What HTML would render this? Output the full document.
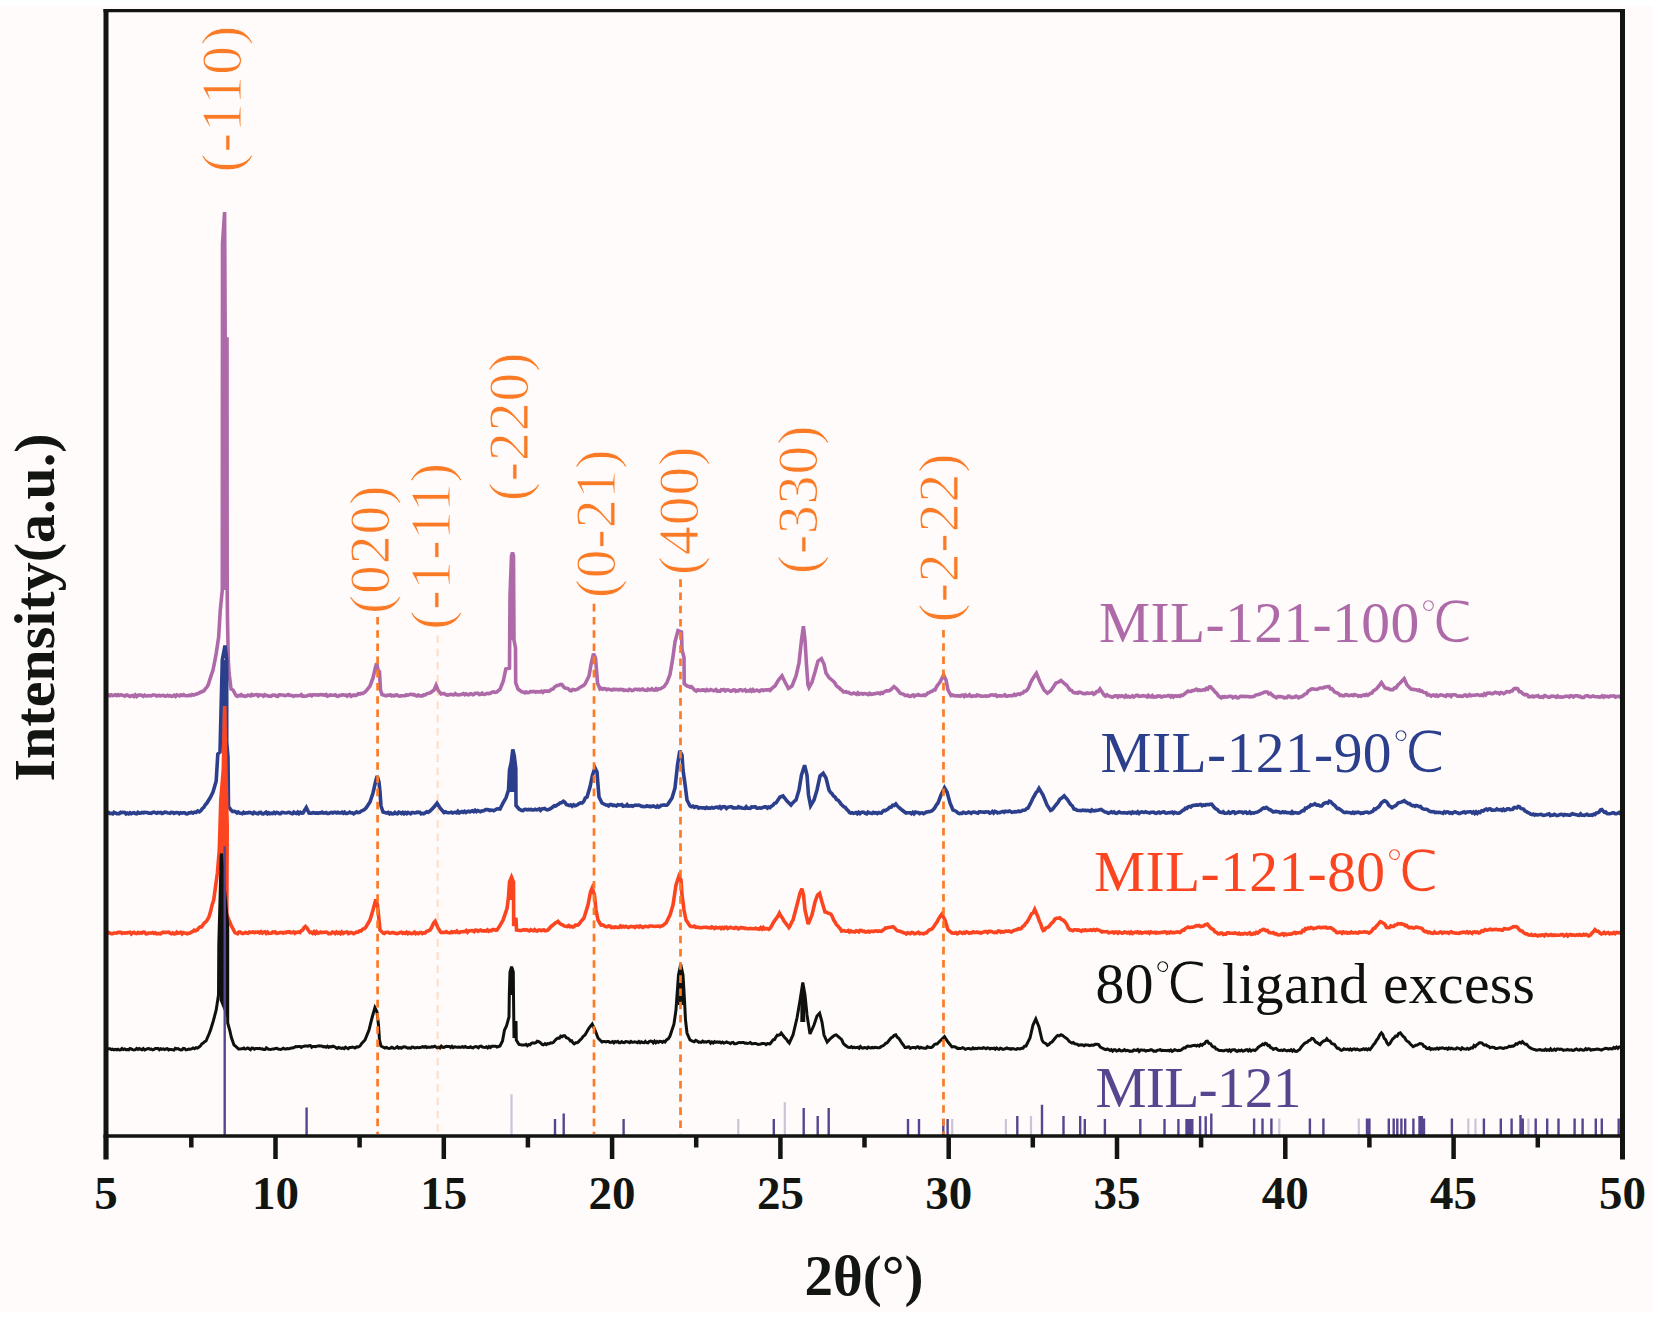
<!DOCTYPE html>
<html><head><meta charset="utf-8"><title>XRD</title>
<style>html,body{margin:0;padding:0;background:#fff;}svg{display:block;}</style>
</head><body>
<svg width="1662" height="1318" viewBox="0 0 1662 1318"><rect x="0" y="0" width="1662" height="1318" fill="#ffffff"/>
<rect x="0" y="6" width="1653" height="1306" fill="#fefbfa"/>
<path d="M106.0,695.5 107.3,695.2 108.7,694.9 110.0,695.8 111.3,694.8 112.7,695.6 114.0,695.3 115.3,694.8 116.7,695.6 118.0,694.7 119.3,695.5 120.7,694.8 122.0,694.9 123.3,695.5 124.7,696.2 126.0,695.0 127.3,695.1 128.7,695.9 130.0,696.5 131.3,695.8 132.7,695.5 134.0,696.5 135.3,694.9 136.7,696.4 138.0,695.3 139.3,695.1 140.7,695.0 142.0,695.4 143.3,696.3 144.7,695.2 146.0,695.9 147.3,696.0 148.7,695.6 150.0,695.8 151.3,695.9 152.7,695.0 154.0,695.0 155.4,695.2 156.7,696.1 158.1,695.6 159.4,695.4 160.8,695.9 162.1,695.6 163.5,695.3 164.8,696.2 166.2,696.0 167.5,695.2 168.8,695.8 170.2,695.7 171.5,696.3 172.9,696.0 174.2,695.2 175.6,696.4 176.9,694.9 178.3,695.4 179.6,696.0 181.0,694.9 182.3,695.5 183.7,694.7 185.0,695.5 186.4,695.7 187.9,695.7 189.3,695.2 190.7,695.6 192.1,694.5 193.6,695.0 195.0,694.5 196.7,694.0 198.3,693.3 200.0,692.5 204.0,690.7 205.4,688.6 206.9,687.2 208.3,684.6 211.0,676.0 213.0,670.0 215.0,660.0 216.3,652.8 218.6,637.6 220.3,610.0 222.3,590.0 222.5,244.0 224.6,212.0 225.2,339.0 227.0,339.0 227.2,590.0 227.5,620.0 228.3,660.0 229.0,672.5 231.0,689.0 233.0,690.0 236.0,695.5 237.3,696.3 238.6,695.5 239.9,695.8 241.2,694.7 242.5,695.9 243.8,695.8 245.1,696.4 246.4,696.1 247.8,695.1 249.1,695.3 250.4,695.8 251.7,694.6 253.0,695.4 254.3,694.9 255.6,694.8 256.9,694.7 258.2,696.0 259.5,694.8 260.8,695.0 262.1,695.3 263.4,696.2 264.7,694.7 266.0,695.4 267.3,695.6 268.7,696.2 270.0,696.1 271.3,696.2 272.6,695.1 273.9,695.3 275.2,695.2 276.5,696.2 277.8,696.3 279.1,694.9 280.4,694.9 281.7,695.0 283.0,695.0 284.3,695.5 285.6,695.7 286.9,695.1 288.2,694.6 289.6,695.4 290.9,695.3 292.2,695.6 293.5,696.3 294.8,695.8 296.1,695.5 297.4,695.7 298.7,695.8 300.0,695.5 301.3,694.7 302.6,696.2 303.9,696.0 305.2,696.2 306.5,696.0 307.9,695.3 309.2,695.3 310.5,694.8 311.8,695.7 313.1,694.7 314.4,694.7 315.7,695.0 317.0,694.9 318.3,695.2 319.6,694.7 321.0,694.6 322.3,694.9 323.6,694.8 324.9,695.3 326.2,694.6 327.5,696.2 328.8,695.7 330.1,694.9 331.4,695.1 332.7,695.2 334.0,695.3 335.4,694.8 336.7,696.1 338.0,696.4 339.3,695.4 340.6,695.5 341.9,694.8 343.2,694.8 344.5,695.2 345.8,695.1 347.1,696.1 348.5,694.9 349.8,694.6 351.1,696.3 352.4,695.6 353.7,694.9 355.0,695.5 356.7,695.1 358.3,693.6 360.0,694.0 361.5,693.3 363.0,693.4 364.5,692.4 366.0,691.0 370.0,686.0 373.0,678.0 375.5,667.0 376.7,663.3 378.5,672.0 379.5,672.0 380.5,690.0 382.0,694.5 385.0,695.5 386.3,695.8 387.7,695.0 389.0,695.2 390.3,694.8 391.7,695.9 393.0,695.5 394.3,695.9 395.7,695.1 397.0,694.9 398.3,695.9 399.7,696.2 401.0,695.9 402.3,695.8 403.7,695.8 405.0,695.7 406.3,694.7 407.7,695.2 409.0,694.9 410.3,694.3 411.7,694.3 413.0,694.8 414.3,694.7 415.7,695.5 417.0,695.9 418.3,695.0 419.7,695.9 421.0,695.9 422.3,695.9 423.7,694.8 425.0,695.0 426.7,693.8 428.3,693.2 430.0,693.0 434.0,690.0 436.1,685.3 438.0,690.0 441.0,694.0 442.5,693.5 444.0,693.6 445.5,694.5 447.0,695.1 448.5,695.0 450.0,694.5 451.3,694.4 452.7,694.7 454.0,694.9 455.3,693.6 456.7,694.6 458.0,695.0 459.3,694.8 460.7,694.7 462.0,694.2 463.3,693.6 464.7,694.7 466.0,693.8 467.3,694.6 468.7,694.9 470.0,693.8 471.3,693.8 472.7,694.7 474.0,694.3 475.3,693.3 476.7,693.2 478.0,693.2 479.3,694.5 480.7,694.3 482.0,693.1 483.3,694.3 484.7,694.5 486.0,693.9 487.3,693.3 488.7,693.6 490.0,693.5 491.7,692.4 493.3,691.8 495.0,692.3 496.7,692.1 498.3,690.6 500.0,689.3 503.3,681.0 505.8,669.0 509.5,668.0 510.0,596.0 511.5,556.0 512.5,552.5 513.5,556.0 514.0,640.0 515.5,648.0 515.7,683.0 518.0,689.0 522.0,692.0 523.4,692.0 524.8,692.8 526.2,691.9 527.5,692.7 528.9,692.6 530.3,691.5 531.7,691.6 533.1,691.6 534.5,691.5 535.8,692.2 537.2,691.6 538.6,691.9 540.0,692.0 541.4,691.1 542.9,692.3 544.3,691.1 545.7,691.1 547.1,691.1 548.6,691.4 550.0,690.5 551.5,689.2 553.0,689.0 554.5,687.1 556.0,686.0 557.5,685.5 559.1,685.0 560.6,684.4 562.1,684.7 563.5,686.7 565.0,688.0 566.7,688.3 568.3,688.8 570.0,690.5 571.3,690.8 572.7,689.4 574.0,689.7 575.3,689.9 576.7,689.4 578.0,689.0 579.4,687.7 580.8,687.0 582.2,686.1 583.6,685.5 585.0,684.0 589.0,676.0 591.5,662.0 593.5,653.7 595.5,658.0 596.5,670.0 597.5,683.0 600.0,689.0 601.3,688.3 602.7,689.2 604.0,688.6 605.3,688.7 606.7,689.7 608.0,689.2 609.3,689.3 610.7,689.7 612.0,690.0 613.3,689.2 614.7,689.6 616.0,689.4 617.3,689.5 618.7,689.8 620.0,689.4 621.3,689.6 622.7,689.5 624.0,690.4 625.3,690.0 626.7,690.3 628.0,690.5 629.3,689.3 630.7,689.9 632.0,690.6 633.3,690.4 634.7,689.2 636.0,689.2 637.3,689.8 638.7,689.2 640.0,690.0 641.3,689.5 642.7,689.1 644.0,690.1 645.3,690.2 646.7,690.4 648.0,689.0 649.3,689.9 650.7,689.8 652.0,688.8 653.3,690.0 654.7,690.1 656.0,688.7 657.3,689.9 658.7,688.9 660.0,689.0 664.0,686.7 667.0,682.5 670.0,674.6 672.6,659.4 675.0,641.8 678.0,630.6 681.5,632.0 682.0,650.0 684.0,657.6 684.2,683.7 687.0,686.0 688.5,686.2 689.9,687.3 691.4,686.7 695.0,690.4 696.3,691.0 697.6,689.8 698.9,690.3 700.3,690.4 701.6,690.1 702.9,689.9 704.2,690.1 705.5,690.8 706.8,689.6 708.2,690.5 709.5,690.3 710.8,689.6 712.1,690.1 713.4,690.6 714.7,690.4 716.1,689.6 717.4,691.3 718.7,691.0 720.0,691.3 721.3,689.7 722.6,690.0 723.9,689.6 725.3,690.9 726.6,690.0 727.9,689.8 729.2,690.3 730.5,691.2 731.8,691.0 733.2,690.0 734.5,689.8 735.8,691.2 737.1,690.6 738.4,690.8 739.7,689.7 741.1,689.7 742.4,690.8 743.7,690.3 745.0,689.7 746.3,691.3 747.6,690.7 748.9,691.0 750.3,689.7 751.6,691.1 752.9,689.7 754.2,691.1 755.5,690.4 756.8,690.2 758.2,690.6 759.5,691.3 760.8,690.1 762.1,689.8 763.4,690.5 764.7,690.0 766.1,689.8 767.4,689.9 768.7,689.7 770.0,690.5 771.7,688.5 773.3,687.2 775.0,686.0 778.5,680.0 782.0,675.8 785.0,682.0 788.4,688.4 792.0,686.0 796.0,676.0 799.0,663.0 801.5,640.0 803.4,626.2 805.0,640.0 806.5,665.0 808.0,685.0 809.0,687.5 812.0,682.0 815.0,672.0 818.0,661.0 821.4,658.7 824.0,664.0 826.0,673.0 829.0,677.6 833.0,681.0 834.7,682.6 836.3,685.5 838.0,687.0 839.4,687.9 840.7,689.5 842.0,690.2 843.4,692.0 844.7,692.0 846.0,691.7 847.4,692.5 848.7,692.3 850.0,693.5 851.3,693.9 852.6,693.6 853.9,693.0 855.2,693.5 856.5,694.3 857.8,692.9 859.1,694.2 860.4,693.5 861.7,693.6 863.0,694.2 864.3,693.5 865.7,693.7 867.0,694.0 868.3,694.6 869.6,693.4 870.9,694.3 872.2,694.1 873.5,694.0 874.8,693.6 876.1,693.5 877.4,693.0 878.7,693.1 880.0,693.8 881.3,692.6 882.7,693.3 884.0,692.0 885.3,691.3 886.7,690.7 888.0,691.0 889.5,690.5 891.0,689.5 892.5,688.0 894.0,686.6 895.5,687.8 897.0,689.3 898.5,691.0 900.0,693.0 901.7,693.8 903.3,694.1 905.0,695.5 906.3,695.4 907.7,695.1 909.0,696.3 910.3,696.4 911.7,695.6 913.0,695.0 914.3,696.3 915.7,695.2 917.0,695.2 918.3,694.6 919.7,695.3 921.0,695.5 922.3,695.5 923.7,695.0 925.0,695.5 926.4,694.7 927.9,693.0 929.3,692.7 930.7,691.6 932.1,691.4 933.6,690.0 935.0,690.0 936.7,686.5 938.3,684.3 940.0,682.0 943.6,674.9 946.0,680.0 948.0,690.0 951.0,695.5 952.3,695.0 953.6,695.7 954.9,695.6 956.2,696.0 957.6,695.8 958.9,695.9 960.2,696.2 961.5,695.3 962.8,695.2 964.1,696.4 965.4,694.9 966.7,696.0 968.0,695.8 969.4,694.7 970.7,696.2 972.0,696.3 973.3,695.8 974.6,696.0 975.9,696.1 977.2,694.9 978.5,695.6 979.8,695.6 981.2,696.2 982.5,696.2 983.8,696.2 985.1,695.8 986.4,696.3 987.7,696.0 989.0,696.0 990.3,695.1 991.6,694.8 993.0,695.0 994.3,695.4 995.6,694.9 996.9,696.3 998.2,695.8 999.5,695.9 1000.8,695.9 1002.1,696.0 1003.4,695.7 1004.8,694.8 1006.1,696.2 1007.4,696.1 1008.7,695.7 1010.0,695.7 1011.4,695.6 1012.9,695.6 1014.3,694.4 1015.7,695.4 1017.1,694.4 1018.6,693.9 1020.0,694.5 1021.4,693.2 1022.8,693.1 1024.2,691.3 1025.6,691.3 1027.0,690.0 1028.7,687.5 1030.3,683.3 1032.0,680.0 1033.5,677.5 1034.9,675.4 1036.4,673.2 1040.0,682.0 1044.0,690.0 1047.4,693.2 1048.9,692.1 1050.5,690.9 1052.0,689.0 1056.0,683.0 1057.7,682.4 1059.3,681.6 1061.0,680.5 1065.0,684.0 1066.7,685.2 1068.3,687.4 1070.0,690.0 1071.7,690.6 1073.3,692.4 1075.0,693.0 1076.3,692.7 1077.7,693.2 1079.0,692.2 1080.3,692.3 1081.7,692.8 1083.0,693.5 1084.3,693.6 1085.7,693.6 1087.0,692.9 1088.3,693.4 1089.7,693.3 1091.0,693.3 1092.3,692.7 1093.7,694.2 1095.0,693.5 1096.7,691.5 1098.3,691.4 1100.0,689.0 1104.0,695.0 1105.5,696.1 1107.0,694.8 1108.5,695.9 1110.0,696.3 1111.3,696.9 1112.6,697.1 1114.0,696.2 1115.3,695.9 1116.6,695.8 1117.9,697.1 1119.2,695.8 1120.6,696.4 1121.9,695.7 1123.2,696.3 1124.5,697.1 1125.8,695.6 1127.2,696.9 1128.5,696.3 1129.8,697.0 1131.1,696.7 1132.5,695.8 1133.8,697.0 1135.1,696.3 1136.4,695.4 1137.7,695.4 1139.1,696.3 1140.4,696.2 1141.7,695.9 1143.0,695.7 1144.3,696.0 1145.7,696.0 1147.0,696.9 1148.3,695.4 1149.6,696.8 1150.9,696.9 1152.3,695.6 1153.6,697.1 1154.9,696.7 1156.2,697.0 1157.5,695.9 1158.9,696.1 1160.2,696.1 1161.5,697.2 1162.8,696.5 1164.2,696.0 1165.5,696.2 1166.8,695.9 1168.1,695.5 1169.4,695.6 1170.8,696.9 1172.1,695.9 1173.4,697.1 1174.7,695.8 1176.0,695.9 1177.4,696.3 1178.7,695.7 1180.0,696.3 1181.3,695.2 1182.7,695.4 1184.0,694.3 1185.3,693.3 1186.7,692.1 1188.0,691.0 1189.4,691.5 1190.8,691.4 1192.2,690.5 1193.6,690.6 1195.0,690.0 1196.4,689.2 1197.9,690.4 1199.3,689.9 1200.7,690.5 1202.1,690.3 1203.6,689.6 1205.0,690.0 1206.4,688.4 1207.8,689.2 1209.2,687.0 1210.6,686.9 1212.1,688.5 1213.5,690.0 1215.0,692.0 1216.7,693.3 1218.3,695.8 1220.0,697.0 1221.3,697.9 1222.6,696.6 1223.9,697.3 1225.2,696.6 1226.5,697.1 1227.8,696.8 1229.1,696.4 1230.4,696.4 1231.7,696.5 1233.0,697.7 1234.3,697.0 1235.7,696.5 1237.0,697.7 1238.3,697.9 1239.6,696.9 1240.9,696.4 1242.2,696.4 1243.5,696.3 1244.8,696.7 1246.1,696.3 1247.4,696.5 1248.7,696.6 1250.0,697.0 1251.4,696.7 1252.9,696.8 1254.3,696.2 1255.7,695.1 1257.1,694.7 1258.6,694.5 1260.0,694.0 1261.5,693.4 1263.0,692.9 1264.4,692.0 1265.9,692.0 1267.4,692.0 1268.9,693.8 1270.4,693.3 1272.0,695.0 1273.5,696.2 1275.0,697.0 1276.3,697.7 1277.6,696.5 1278.9,696.6 1280.3,696.5 1281.6,696.8 1282.9,696.9 1284.2,697.8 1285.5,697.6 1286.8,697.7 1288.2,696.1 1289.5,696.2 1290.8,697.4 1292.1,697.7 1293.4,697.0 1294.7,697.2 1296.1,696.1 1297.4,696.8 1298.7,697.8 1300.0,697.0 1301.7,696.6 1303.3,695.6 1305.0,694.0 1306.7,693.5 1308.3,690.9 1310.0,690.0 1311.4,689.0 1312.9,688.8 1314.3,689.2 1315.7,689.2 1317.1,689.4 1318.6,688.7 1320.0,688.0 1321.6,688.0 1323.1,687.9 1324.7,687.1 1326.2,687.0 1327.8,686.6 1329.1,686.6 1330.4,688.8 1331.7,688.7 1333.0,690.0 1334.4,691.9 1335.8,692.5 1337.2,692.9 1338.6,693.7 1340.0,695.5 1341.3,695.1 1342.6,695.7 1343.9,695.9 1345.3,694.8 1346.6,694.7 1347.9,695.5 1349.2,695.6 1350.5,695.3 1351.8,695.0 1353.2,695.7 1354.5,694.6 1355.8,695.1 1357.1,695.4 1358.4,696.3 1359.7,695.8 1361.1,696.2 1362.4,695.5 1363.7,695.0 1365.0,695.5 1366.4,694.5 1367.8,695.3 1369.2,694.4 1370.6,693.2 1372.0,693.0 1373.5,690.6 1375.0,690.0 1376.5,688.8 1378.0,687.0 1381.4,682.6 1385.0,688.0 1386.7,688.4 1388.3,688.6 1390.0,689.6 1391.5,689.5 1393.0,689.6 1394.5,687.9 1396.0,688.0 1397.7,685.2 1399.3,683.7 1401.0,682.0 1404.2,678.6 1407.0,685.0 1411.0,689.0 1415.0,689.6 1416.4,689.7 1417.8,690.5 1419.2,689.9 1420.6,691.3 1422.0,691.0 1423.3,692.2 1424.7,692.5 1426.0,692.7 1427.3,694.8 1428.7,694.4 1430.0,695.5 1431.3,696.1 1432.6,695.0 1433.9,695.0 1435.3,696.0 1436.6,695.1 1437.9,696.3 1439.2,695.5 1440.5,694.9 1441.8,695.0 1443.2,695.4 1444.5,695.8 1445.8,696.3 1447.1,694.9 1448.4,695.3 1449.7,695.0 1451.1,696.4 1452.4,694.9 1453.7,694.7 1455.0,694.7 1456.3,695.3 1457.6,696.2 1458.9,696.2 1460.3,695.9 1461.6,696.4 1462.9,696.3 1464.2,695.2 1465.5,694.9 1466.8,696.3 1468.2,695.9 1469.5,694.7 1470.8,695.8 1472.1,695.3 1473.4,695.3 1474.7,695.2 1476.1,694.9 1477.4,694.6 1478.7,695.1 1480.0,695.5 1481.4,694.9 1482.9,695.6 1484.3,693.8 1485.7,694.9 1487.1,693.2 1488.6,693.1 1490.0,693.0 1491.4,693.6 1492.7,693.6 1494.1,692.9 1495.5,692.2 1496.8,693.0 1498.2,692.8 1499.5,693.8 1500.9,692.4 1502.3,692.8 1503.6,693.7 1505.0,693.0 1506.5,691.7 1508.0,691.8 1509.5,692.1 1511.0,691.0 1512.3,690.9 1513.7,689.0 1515.1,688.4 1516.4,688.6 1517.8,688.9 1519.2,691.6 1520.6,691.5 1522.0,693.0 1523.3,694.0 1524.7,694.9 1526.0,694.5 1527.3,694.9 1528.7,696.7 1530.0,696.5 1531.3,696.7 1532.6,696.1 1533.9,696.9 1535.3,696.2 1536.6,696.1 1537.9,695.6 1539.2,697.0 1540.5,697.2 1541.8,696.7 1543.1,697.3 1544.5,695.6 1545.8,696.0 1547.1,696.5 1548.4,697.3 1549.7,697.3 1551.0,696.3 1552.3,696.1 1553.7,696.4 1555.0,696.5 1556.3,697.3 1557.6,695.9 1558.9,697.0 1560.2,696.9 1561.5,697.1 1562.9,697.0 1564.2,696.7 1565.5,696.2 1566.8,696.2 1568.1,696.3 1569.4,697.0 1570.7,695.7 1572.1,696.0 1573.4,697.0 1574.7,696.0 1576.0,695.7 1577.3,695.7 1578.6,696.6 1579.9,696.2 1581.3,697.4 1582.6,697.2 1583.9,697.4 1585.2,696.1 1586.5,695.8 1587.8,695.8 1589.1,696.5 1590.5,696.9 1591.8,696.4 1593.1,696.0 1594.4,696.4 1595.7,696.7 1597.0,696.8 1598.3,696.9 1599.7,697.1 1601.0,696.8 1602.3,695.8 1603.6,697.1 1604.9,696.1 1606.2,696.6 1607.5,696.3 1608.9,696.9 1610.2,696.0 1611.5,696.0 1612.8,696.0 1614.1,695.9 1615.4,697.2 1616.7,696.6 1618.1,696.2 1619.4,696.3 1620.7,697.4 1622.0,696.5" fill="none" stroke="#ae6aa8" stroke-width="3.6" stroke-linejoin="miter" stroke-miterlimit="3"/><polygon points="222.5,339.0 227.0,339.0 227.0,590.0 222.5,590.0" fill="#ae6aa8"/><polygon points="511.5,556.0 512.5,552.5 513.5,556.0 514.0,640.0 510.0,640.0 510.0,596.0" fill="#ae6aa8"/>
<path d="M106.0,813.0 107.3,813.0 108.7,812.5 110.0,813.6 111.3,813.3 112.7,813.9 114.0,812.3 115.3,813.0 116.7,813.6 118.0,813.6 119.3,813.7 120.7,812.2 122.0,812.6 123.3,812.3 124.7,812.4 126.0,813.9 127.3,813.1 128.7,813.8 130.0,812.8 131.3,813.7 132.7,812.9 134.0,812.6 135.3,813.5 136.7,813.8 138.0,812.3 139.3,813.2 140.7,813.2 142.0,812.5 143.3,812.8 144.7,812.4 146.0,812.5 147.3,812.6 148.7,813.2 150.0,813.0 151.3,813.3 152.7,812.5 154.0,812.1 155.3,812.7 156.7,813.3 158.0,812.4 159.3,812.7 160.7,812.5 162.0,813.5 163.3,813.1 164.7,812.2 166.0,812.3 167.3,812.8 168.7,813.1 170.0,813.3 171.3,812.3 172.7,812.4 174.0,813.4 175.3,812.8 176.7,812.6 178.0,812.7 179.3,813.8 180.7,812.7 182.0,813.1 183.3,812.7 184.7,812.8 186.0,813.7 187.3,813.9 188.7,812.8 190.0,813.0 191.5,812.3 193.0,813.2 194.5,812.1 196.0,812.5 197.7,810.9 199.3,811.8 201.0,810.4 202.4,808.5 203.8,807.4 205.3,804.9 206.7,803.3 210.0,798.0 213.0,792.0 216.2,781.0 217.8,754.0 220.0,752.0 222.3,660.0 225.0,645.5 226.7,660.0 226.7,742.0 228.0,757.0 228.5,806.5 231.0,810.0 232.5,811.4 234.0,811.4 235.5,811.6 237.0,813.0 238.3,812.1 239.6,813.1 241.0,813.3 242.3,813.7 243.6,812.3 244.9,813.2 246.2,812.8 247.6,813.0 248.9,812.4 250.2,812.6 251.5,813.0 252.8,813.8 254.2,812.3 255.5,813.0 256.8,813.5 258.1,813.8 259.4,812.5 260.8,812.3 262.1,813.8 263.4,813.9 264.7,813.0 266.0,812.2 267.4,813.8 268.7,812.8 270.0,813.7 271.3,813.2 272.6,813.6 274.0,812.4 275.3,813.5 276.6,812.5 277.9,812.8 279.2,813.6 280.6,813.6 281.9,812.4 283.2,812.5 284.5,812.8 285.8,813.0 287.2,812.8 288.5,812.3 289.8,812.5 291.1,813.4 292.4,813.7 293.8,812.2 295.1,813.1 296.4,813.5 297.7,812.2 299.0,813.6 300.4,812.3 301.7,813.2 303.0,813.0 306.3,807.5 309.0,813.0 310.3,813.1 311.6,813.2 312.9,812.7 314.3,812.9 315.6,813.1 316.9,812.9 318.2,813.3 319.5,812.9 320.8,812.9 322.1,812.1 323.5,813.2 324.8,813.0 326.1,812.5 327.4,813.5 328.7,813.5 330.0,812.9 331.3,812.4 332.7,813.0 334.0,812.3 335.3,812.3 336.6,812.9 337.9,812.3 339.2,812.9 340.5,813.0 341.9,812.2 343.2,813.2 344.5,812.2 345.8,813.4 347.1,813.5 348.4,813.0 349.7,812.2 351.1,813.0 352.4,812.8 353.7,813.8 355.0,813.0 356.6,811.8 358.1,812.6 359.7,812.4 361.3,811.0 362.9,810.4 364.4,809.6 366.0,808.0 370.0,802.0 373.0,793.0 375.5,782.0 377.2,776.0 379.0,782.0 380.0,792.0 381.0,806.0 383.0,812.0 387.0,813.0 388.3,812.4 389.6,813.9 390.9,813.0 392.2,813.8 393.6,813.7 394.9,812.4 396.2,813.5 397.5,813.8 398.8,812.2 400.1,812.7 401.4,813.5 402.7,812.4 404.0,813.7 405.3,812.6 406.7,813.6 408.0,812.4 409.3,813.0 410.6,813.8 411.9,812.5 413.2,812.6 414.5,813.0 415.8,812.7 417.1,812.2 418.4,812.4 419.8,812.4 421.1,813.8 422.4,813.3 423.7,813.7 425.0,813.0 426.7,811.7 428.3,812.2 430.0,811.0 434.0,807.0 437.0,803.1 440.0,808.0 444.0,812.5 445.5,811.8 447.0,812.6 448.5,812.7 450.0,812.5 451.3,812.2 452.6,813.0 454.0,812.4 455.3,812.3 456.6,812.8 457.9,811.3 459.3,812.9 460.6,812.1 461.9,811.6 463.2,812.3 464.6,811.3 465.9,812.5 467.2,811.7 468.5,811.2 469.9,811.9 471.2,811.2 472.5,810.7 473.8,811.6 475.1,810.3 476.5,811.6 477.8,810.5 479.1,811.1 480.4,811.7 481.8,810.9 483.1,811.0 484.4,810.3 485.7,809.6 487.1,809.6 488.4,809.7 489.7,810.5 491.0,810.1 492.4,810.2 493.7,810.8 495.0,810.0 496.7,809.0 498.3,808.8 500.0,809.0 502.7,803.7 506.1,797.6 508.5,790.0 509.5,770.0 511.3,762.0 512.8,749.5 514.3,756.0 515.8,768.5 516.0,805.5 519.0,809.0 521.6,810.4 523.0,810.6 524.3,809.4 525.7,809.3 527.0,809.9 528.4,809.4 529.7,809.7 531.1,809.4 532.4,810.0 533.8,810.0 535.1,809.2 536.5,809.9 537.8,809.6 539.2,808.9 540.5,810.3 541.9,808.9 543.2,808.7 544.6,808.5 545.9,809.4 547.3,809.8 548.6,809.6 550.0,809.0 551.4,808.0 552.8,807.0 554.2,805.7 555.6,806.1 557.0,805.0 558.6,804.2 560.2,802.9 561.8,802.5 563.4,801.3 564.9,802.4 566.5,804.6 568.0,805.0 569.4,805.6 570.8,804.9 572.2,806.2 573.6,804.8 575.0,805.8 576.4,805.3 577.8,804.5 579.2,803.6 580.6,802.8 582.0,803.0 583.7,801.5 585.3,798.1 587.0,797.0 590.0,787.0 592.5,775.0 595.0,767.9 597.0,772.0 598.0,785.0 599.0,797.0 602.0,803.0 606.0,805.0 607.3,805.1 608.6,805.9 610.0,804.5 611.3,804.6 612.6,805.4 613.9,805.2 615.2,805.5 616.5,805.9 617.9,804.7 619.2,805.0 620.5,805.0 621.8,804.6 623.1,806.2 624.4,806.0 625.8,805.9 627.1,804.7 628.4,806.2 629.7,806.1 631.0,805.6 632.3,806.2 633.7,805.7 635.0,805.3 636.3,805.1 637.6,805.4 638.9,805.1 640.2,805.7 641.6,806.4 642.9,806.4 644.2,806.7 645.5,806.5 646.8,805.7 648.1,806.3 649.5,806.1 650.8,806.8 652.1,806.3 653.4,805.9 654.7,806.6 656.0,807.2 657.4,805.9 658.7,807.1 660.0,806.5 661.3,805.2 662.7,805.2 664.0,804.8 665.3,805.3 666.7,805.2 668.0,804.0 672.0,798.0 675.0,788.0 677.5,765.0 679.8,750.8 682.0,755.0 683.0,770.0 685.0,784.0 687.0,800.0 690.0,806.0 691.4,806.7 692.9,806.1 694.3,807.4 695.7,806.6 697.1,806.7 698.6,808.1 700.0,807.6 701.3,807.8 702.6,807.9 704.0,807.9 705.3,808.5 706.6,807.5 707.9,808.2 709.2,808.0 710.6,808.2 711.9,807.5 713.2,808.0 714.5,807.7 715.8,807.3 717.2,807.1 718.5,807.8 719.8,806.8 721.1,808.3 722.5,807.0 723.8,806.7 725.1,806.9 726.4,808.4 727.7,807.3 729.1,807.0 730.4,806.8 731.7,806.8 733.0,807.9 734.3,807.8 735.7,808.0 737.0,808.0 738.3,806.8 739.6,807.8 740.9,807.4 742.3,808.2 743.6,808.2 744.9,808.3 746.2,806.8 747.5,808.3 748.9,808.3 750.2,808.4 751.5,806.9 752.8,807.1 754.2,806.9 755.5,806.8 756.8,808.2 758.1,808.2 759.4,807.8 760.8,808.2 762.1,807.8 763.4,807.2 764.7,806.9 766.0,806.9 767.4,808.1 768.7,807.1 770.0,807.6 771.5,806.1 773.0,805.2 774.5,803.3 776.0,803.0 780.0,797.0 783.0,795.9 787.0,801.0 791.0,805.0 792.7,802.9 794.3,801.3 796.0,800.0 799.0,790.0 801.5,775.0 804.6,765.2 807.0,775.0 808.5,795.0 810.6,805.8 814.0,800.0 817.0,790.0 820.0,776.0 823.2,773.3 826.0,778.0 829.0,790.0 830.5,792.4 832.0,793.7 833.5,795.9 835.0,796.9 836.5,799.5 838.0,800.0 839.5,801.8 841.0,804.1 842.5,805.5 844.0,807.0 845.3,807.4 846.6,809.2 848.0,810.5 849.3,812.3 850.6,813.0 851.9,812.7 853.3,813.4 854.6,813.1 855.9,812.5 857.3,813.7 858.6,812.3 860.0,813.6 861.3,812.4 862.6,812.1 864.0,812.5 865.3,813.5 866.6,813.9 868.0,812.1 869.3,813.0 870.6,813.0 872.0,813.5 873.3,812.4 874.7,813.0 876.0,812.7 877.3,813.6 878.7,812.6 880.0,813.0 881.3,813.1 882.7,811.3 884.0,810.5 885.3,810.7 886.7,809.7 888.0,809.0 889.6,807.3 891.1,807.2 892.7,805.2 894.2,805.5 895.8,804.0 897.3,805.9 898.9,807.5 900.5,808.7 902.0,810.0 906.0,813.0 907.4,812.7 908.7,812.8 910.1,812.8 911.4,813.7 912.8,812.3 914.1,813.7 915.5,812.1 916.9,812.5 918.2,812.6 919.6,813.7 920.9,813.0 922.3,812.8 923.6,813.7 925.0,813.0 926.3,812.0 927.7,811.9 929.0,811.6 930.3,811.5 931.7,811.0 933.0,810.0 934.7,807.9 936.3,805.1 938.0,803.0 941.0,795.0 944.5,787.8 947.0,792.0 950.0,803.0 953.0,810.0 954.7,810.7 956.3,811.4 958.0,813.0 959.3,813.6 960.6,813.2 962.0,813.3 963.3,812.3 964.6,812.7 965.9,813.3 967.2,812.9 968.6,812.1 969.9,812.7 971.2,813.4 972.5,812.2 973.8,812.1 975.1,812.3 976.5,812.9 977.8,813.2 979.1,811.9 980.4,811.9 981.7,812.0 983.1,812.1 984.4,812.4 985.7,811.8 987.0,812.0 988.3,811.8 989.7,813.1 991.0,812.7 992.3,811.5 993.6,813.0 994.9,811.4 996.3,811.9 997.6,813.0 998.9,812.6 1000.2,812.5 1001.5,811.9 1002.9,811.4 1004.2,812.2 1005.5,811.2 1006.8,811.4 1008.1,811.7 1009.4,811.0 1010.8,811.6 1012.1,812.3 1013.4,812.1 1014.7,811.7 1016.0,811.9 1017.4,811.6 1018.7,811.0 1020.0,811.6 1021.3,811.2 1022.7,810.2 1024.0,810.2 1025.3,809.9 1026.7,808.5 1028.0,808.0 1029.7,804.8 1031.3,801.8 1033.0,798.0 1034.5,795.5 1036.0,792.7 1037.5,791.2 1039.0,788.4 1043.0,795.0 1047.0,805.0 1050.5,810.5 1052.0,809.7 1053.5,808.0 1055.0,806.0 1056.7,804.0 1058.3,802.0 1060.0,799.0 1061.4,798.3 1062.8,797.1 1064.2,795.8 1065.8,797.8 1067.4,799.6 1069.0,802.0 1070.7,804.6 1072.3,805.9 1074.0,809.0 1075.5,809.2 1077.0,810.3 1078.5,810.5 1080.0,810.5 1081.3,810.7 1082.6,810.1 1083.9,810.4 1085.2,810.4 1086.5,810.7 1087.8,810.3 1089.2,810.8 1090.5,811.3 1091.8,809.9 1093.1,810.8 1094.4,811.0 1095.7,810.3 1097.0,810.5 1101.0,809.5 1105.0,812.0 1106.7,812.2 1108.3,813.3 1110.0,812.6 1111.3,811.8 1112.6,812.7 1114.0,812.0 1115.3,813.1 1116.6,813.4 1117.9,812.6 1119.2,811.9 1120.6,812.7 1121.9,812.7 1123.2,813.0 1124.5,812.6 1125.8,812.9 1127.2,813.2 1128.5,812.6 1129.8,812.4 1131.1,813.4 1132.5,812.1 1133.8,812.9 1135.1,812.4 1136.4,813.1 1137.7,811.9 1139.1,813.5 1140.4,812.3 1141.7,811.8 1143.0,812.2 1144.3,812.4 1145.7,811.7 1147.0,812.5 1148.3,812.5 1149.6,813.0 1150.9,812.3 1152.3,812.2 1153.6,812.1 1154.9,813.0 1156.2,813.4 1157.5,812.6 1158.9,812.1 1160.2,813.1 1161.5,812.4 1162.8,812.1 1164.2,811.9 1165.5,813.1 1166.8,813.2 1168.1,812.8 1169.4,812.5 1170.8,812.7 1172.1,812.1 1173.4,813.4 1174.7,812.3 1176.0,812.8 1177.4,813.2 1178.7,813.2 1180.0,812.6 1181.3,811.6 1182.7,810.4 1184.0,809.9 1185.3,808.2 1186.7,808.5 1188.0,807.0 1189.4,806.4 1190.8,807.0 1192.2,805.6 1193.6,805.4 1195.0,805.3 1196.4,804.9 1197.9,805.2 1199.3,804.7 1200.7,804.4 1202.1,805.7 1203.6,804.9 1205.0,805.3 1206.3,804.6 1207.6,804.5 1209.0,804.6 1210.3,804.3 1211.6,804.2 1213.1,806.0 1214.5,807.7 1216.0,809.0 1217.5,809.7 1219.0,811.6 1220.5,812.3 1222.0,812.6 1223.3,811.8 1224.6,813.2 1226.0,813.3 1227.3,813.1 1228.6,812.0 1229.9,813.2 1231.2,812.8 1232.6,811.7 1233.9,811.7 1235.2,813.4 1236.5,812.9 1237.8,812.2 1239.2,811.9 1240.5,812.0 1241.8,812.1 1243.1,813.1 1244.4,812.3 1245.8,812.0 1247.1,813.3 1248.4,813.1 1249.7,812.0 1251.0,813.3 1252.4,812.8 1253.7,813.1 1255.0,812.6 1256.4,812.2 1257.8,811.9 1259.2,811.0 1260.6,810.3 1262.0,809.0 1263.5,807.9 1264.9,808.3 1266.4,807.4 1267.8,808.4 1269.2,809.6 1270.6,810.0 1272.0,811.0 1273.3,812.0 1274.7,811.6 1276.0,811.4 1277.3,811.6 1278.7,811.7 1280.0,812.6 1281.3,812.6 1282.7,811.8 1284.0,812.5 1285.3,812.0 1286.7,812.6 1288.0,812.6 1289.3,812.7 1290.7,813.3 1292.0,811.7 1293.3,813.2 1294.7,812.5 1296.0,812.7 1297.3,812.9 1298.7,813.2 1300.0,812.6 1301.3,811.4 1302.7,810.6 1304.0,810.6 1305.3,808.1 1306.7,808.2 1308.0,807.0 1309.4,806.6 1310.8,804.8 1312.1,805.2 1313.5,804.7 1314.9,803.7 1316.6,805.2 1318.3,804.9 1320.0,806.0 1321.7,805.9 1323.3,804.0 1325.0,803.0 1326.5,802.6 1327.9,803.1 1329.3,801.2 1330.8,801.7 1332.1,803.4 1333.4,804.6 1334.7,805.4 1336.0,807.0 1337.5,808.6 1339.0,808.6 1340.5,809.8 1342.0,810.8 1343.5,812.2 1345.0,812.6 1346.3,812.1 1347.6,812.5 1348.9,812.5 1350.3,812.7 1351.6,813.2 1352.9,812.2 1354.2,813.2 1355.5,812.4 1356.8,812.6 1358.2,812.2 1359.5,812.6 1360.8,813.5 1362.1,812.9 1363.4,813.1 1364.7,812.3 1366.1,812.3 1367.4,812.2 1368.7,812.8 1370.0,812.6 1371.4,811.9 1372.8,811.3 1374.2,809.0 1375.6,809.3 1377.0,808.0 1378.5,807.2 1380.0,805.2 1381.4,802.8 1382.9,801.8 1384.4,800.7 1385.9,801.2 1387.4,802.9 1389.0,805.7 1390.5,806.5 1392.0,807.7 1393.5,806.8 1395.0,805.9 1396.5,804.9 1398.0,803.0 1399.5,802.6 1401.1,802.1 1402.7,801.5 1404.2,800.7 1405.6,801.9 1406.9,802.6 1408.3,803.6 1409.6,803.6 1411.0,805.0 1412.3,805.6 1413.7,805.5 1415.0,806.3 1416.3,805.4 1417.7,805.8 1419.0,806.7 1420.5,806.4 1422.0,808.3 1423.5,809.1 1425.0,809.2 1426.5,809.2 1428.0,810.0 1429.4,811.1 1430.8,811.6 1432.2,811.7 1433.6,811.6 1435.0,812.6 1436.3,812.2 1437.6,812.5 1439.0,812.3 1440.3,812.5 1441.6,812.9 1442.9,813.4 1444.3,811.8 1445.6,812.7 1446.9,811.8 1448.2,811.9 1449.6,813.2 1450.9,812.7 1452.2,813.4 1453.5,812.5 1454.9,811.7 1456.2,812.4 1457.5,812.8 1458.8,813.4 1460.1,813.5 1461.5,812.6 1462.8,812.4 1464.1,811.9 1465.4,812.9 1466.8,812.1 1468.1,812.0 1469.4,811.7 1470.7,811.7 1472.1,812.9 1473.4,811.9 1474.7,813.4 1476.0,811.9 1477.4,813.3 1478.7,811.9 1480.0,812.6 1481.7,810.7 1483.3,811.0 1485.0,809.6 1486.3,809.1 1487.6,810.0 1488.9,809.0 1490.3,808.8 1491.6,810.1 1492.9,810.0 1494.2,810.2 1495.5,810.0 1496.8,808.9 1498.2,809.8 1499.5,810.0 1500.8,809.5 1502.1,810.4 1503.4,809.2 1504.7,810.4 1506.1,810.0 1507.4,808.7 1508.7,808.7 1510.0,809.6 1511.3,809.5 1512.7,809.3 1514.0,807.6 1515.4,807.6 1516.7,807.9 1518.1,806.5 1519.4,806.7 1520.8,808.4 1522.2,808.8 1523.6,809.1 1525.0,811.0 1526.4,811.5 1527.8,812.6 1529.2,813.0 1530.6,814.2 1532.0,814.6 1533.3,814.0 1534.6,815.1 1535.9,814.4 1537.2,814.9 1538.6,814.8 1539.9,814.5 1541.2,814.4 1542.5,815.1 1543.8,815.4 1545.1,815.1 1546.4,814.7 1547.8,814.2 1549.1,813.8 1550.4,815.5 1551.7,815.0 1553.0,815.2 1554.3,814.3 1555.6,814.8 1556.9,815.5 1558.2,815.2 1559.6,814.8 1560.9,814.3 1562.2,814.5 1563.5,815.3 1564.8,814.4 1566.1,814.9 1567.4,814.8 1568.8,815.3 1570.1,815.2 1571.4,814.2 1572.7,813.7 1574.0,814.2 1575.3,814.5 1576.6,814.8 1577.9,815.2 1579.2,815.3 1580.6,813.8 1581.9,815.2 1583.2,815.2 1584.5,815.3 1585.8,814.7 1587.1,814.2 1588.4,815.2 1589.8,815.2 1591.1,814.9 1592.4,815.3 1593.7,814.3 1595.0,814.6 1596.4,812.9 1597.7,812.7 1599.1,812.1 1600.4,810.1 1601.8,809.6 1603.1,811.0 1604.4,812.3 1605.7,812.0 1607.0,813.5 1608.4,813.7 1609.7,813.8 1611.1,813.4 1612.5,812.9 1613.8,812.9 1615.2,813.8 1616.5,813.8 1617.9,813.2 1619.3,812.5 1620.6,813.8 1622.0,813.2" fill="none" stroke="#2c3f8c" stroke-width="3.6" stroke-linejoin="miter" stroke-miterlimit="3"/><polygon points="222.3,660.0 226.7,660.0 226.7,806.0 222.3,806.0" fill="#2c3f8c"/><polygon points="512.8,749.5 514.3,756.0 515.8,768.5 515.8,792.0 509.5,792.0 509.5,770.0 511.3,762.0" fill="#2c3f8c"/>
<path d="M106.0,933.0 107.3,933.5 108.7,932.5 110.0,933.1 111.3,933.7 112.7,933.7 114.0,933.0 115.3,933.0 116.7,933.2 118.0,932.4 119.3,932.4 120.7,932.4 122.0,933.4 123.3,932.8 124.7,933.1 126.0,932.8 127.3,933.0 128.7,932.4 130.0,932.2 131.3,933.9 132.7,932.8 134.0,932.3 135.3,933.2 136.7,933.5 138.0,932.4 139.3,933.2 140.7,932.7 142.0,933.0 143.3,932.1 144.7,932.2 146.0,933.9 147.3,933.7 148.7,933.0 150.0,933.0 151.3,933.1 152.7,932.6 154.0,933.5 155.3,932.9 156.7,933.8 158.0,933.5 159.3,933.6 160.7,933.8 162.0,932.6 163.3,932.2 164.7,932.5 166.0,932.4 167.3,932.3 168.7,932.2 170.0,933.1 171.3,933.7 172.7,932.9 174.0,933.8 175.3,933.7 176.7,932.2 178.0,933.2 179.3,932.8 180.7,932.3 182.0,933.8 183.3,932.6 184.7,933.1 186.0,933.3 187.3,933.8 188.7,933.3 190.0,933.0 191.4,932.1 192.9,931.4 194.3,930.1 195.8,930.8 197.2,930.1 198.7,928.0 200.2,926.9 201.6,927.0 203.1,924.6 204.5,922.7 206.0,921.7 207.4,919.7 208.9,917.0 210.5,911.9 212.1,904.9 213.7,900.0 217.4,873.0 219.3,850.0 220.8,800.0 223.3,770.0 224.7,706.0 225.8,770.0 227.2,826.0 227.0,870.0 226.8,914.0 228.2,918.2 229.6,921.7 231.0,925.0 235.0,932.8 236.3,933.1 237.6,933.7 238.9,932.0 240.2,932.1 241.5,933.2 242.8,933.6 244.1,933.1 245.4,932.4 246.7,932.9 248.0,933.2 249.3,932.0 250.6,932.4 251.9,932.3 253.2,932.0 254.5,932.7 255.8,932.1 257.1,932.2 258.4,932.0 259.7,933.0 261.0,931.8 262.3,933.1 263.6,932.1 264.9,931.8 266.2,933.4 267.5,932.1 268.8,933.4 270.1,933.3 271.4,933.3 272.7,932.0 274.0,932.5 275.3,931.9 276.6,933.4 277.9,933.2 279.2,932.8 280.5,932.5 281.8,932.3 283.1,933.2 284.4,932.5 285.7,932.8 287.0,931.9 288.3,932.1 289.6,931.8 290.9,932.9 292.2,932.6 293.5,931.9 294.8,933.2 296.1,932.1 297.4,932.4 298.7,931.9 300.0,932.5 301.4,930.6 302.7,930.1 304.0,927.7 305.4,926.5 306.9,927.9 308.5,930.5 310.0,932.5 311.3,932.2 312.6,933.3 314.0,931.8 315.3,933.4 316.6,931.8 317.9,933.3 319.3,932.9 320.6,932.1 321.9,932.6 323.2,932.3 324.6,932.2 325.9,932.1 327.2,932.4 328.5,933.6 329.9,933.6 331.2,933.5 332.5,932.0 333.8,932.4 335.1,933.5 336.5,932.0 337.8,933.2 339.1,932.5 340.4,933.7 341.8,932.0 343.1,933.4 344.4,932.6 345.7,932.2 347.1,932.0 348.4,933.5 349.7,933.0 351.0,932.4 352.4,932.9 353.7,933.7 355.0,933.0 356.5,932.0 358.0,932.1 359.5,930.8 361.0,931.0 362.7,929.1 364.3,928.8 366.0,927.0 370.0,920.0 373.0,910.0 375.8,899.4 377.5,905.0 378.5,915.0 380.0,930.0 383.0,933.0 384.3,933.4 385.6,932.5 386.9,932.2 388.2,932.3 389.6,933.2 390.9,933.0 392.2,932.6 393.5,932.5 394.8,933.2 396.1,933.4 397.4,933.6 398.8,933.1 400.1,932.5 401.4,932.2 402.7,933.4 404.0,932.8 405.3,933.4 406.6,932.2 407.9,933.6 409.2,932.7 410.6,933.6 411.9,933.7 413.2,933.0 414.5,932.1 415.8,933.7 417.1,933.0 418.4,933.7 419.8,932.6 421.1,932.4 422.4,933.6 423.7,932.8 425.0,933.0 426.7,931.4 428.3,930.8 430.0,930.0 431.7,927.3 433.5,923.3 435.2,921.3 438.0,928.0 441.0,932.5 442.3,932.5 443.6,932.3 445.0,932.4 446.3,931.6 447.6,932.6 448.9,932.7 450.3,932.8 451.6,931.7 452.9,932.4 454.2,931.7 455.6,932.4 456.9,931.1 458.2,932.5 459.5,932.6 460.9,931.7 462.2,931.7 463.5,931.6 464.8,931.6 466.2,930.6 467.5,932.3 468.8,930.9 470.1,930.7 471.5,930.5 472.8,930.8 474.1,931.7 475.4,930.2 476.8,930.3 478.1,931.3 479.4,930.4 480.7,930.0 482.1,931.0 483.4,930.9 484.7,930.8 486.0,931.0 487.4,929.9 488.7,931.2 490.0,930.5 491.4,930.8 492.8,929.5 494.2,929.5 495.6,930.1 497.0,930.0 499.5,926.3 503.0,920.2 507.0,908.7 508.5,897.0 509.5,882.0 511.5,877.0 513.5,882.0 513.7,926.0 516.0,917.8 516.5,930.0 520.0,930.5 521.3,930.5 522.7,930.1 524.0,929.7 525.3,930.2 526.7,929.7 528.0,930.5 529.3,931.0 530.7,929.7 532.0,930.4 533.3,930.7 534.7,929.6 536.0,930.8 537.3,931.0 538.7,930.0 540.0,930.0 541.3,930.7 542.7,930.1 544.0,929.9 545.3,930.8 546.7,930.5 548.0,930.0 549.7,928.0 551.3,926.2 553.0,925.0 554.7,923.5 556.3,922.4 558.0,921.3 559.7,923.4 561.3,924.3 563.0,925.0 564.4,926.1 565.8,926.2 567.2,926.6 568.6,925.6 570.0,926.7 571.3,926.4 572.7,927.0 574.0,926.6 575.3,925.1 576.7,925.1 578.0,925.0 579.5,923.5 581.0,921.3 582.5,919.8 584.0,918.0 588.0,905.0 590.5,892.0 592.2,887.9 594.5,895.0 596.0,910.0 598.0,920.0 601.0,925.0 602.7,924.8 604.3,926.0 606.0,926.7 607.3,926.7 608.6,925.8 610.0,926.1 611.3,927.5 612.6,927.2 613.9,927.5 615.2,926.9 616.5,927.3 617.9,927.4 619.2,927.4 620.5,925.9 621.8,927.0 623.1,926.3 624.4,927.0 625.8,926.3 627.1,926.8 628.4,927.5 629.7,926.9 631.0,926.3 632.3,926.7 633.7,926.6 635.0,927.5 636.3,926.3 637.6,926.3 638.9,927.0 640.2,926.0 641.6,926.9 642.9,927.5 644.2,926.7 645.5,926.3 646.8,926.6 648.1,926.8 649.5,926.1 650.8,926.0 652.1,926.0 653.4,926.3 654.7,926.5 656.0,926.3 657.4,926.2 658.7,926.0 660.0,926.7 661.5,925.9 663.0,925.5 664.5,924.1 666.0,923.0 670.0,915.0 673.0,905.0 676.0,885.0 678.9,876.2 681.0,880.0 682.0,895.0 684.0,910.0 686.0,920.0 690.0,926.0 691.4,926.4 692.9,926.7 694.3,926.1 695.7,927.3 697.1,927.1 698.6,927.5 700.0,927.6 701.3,927.8 702.6,927.6 704.0,927.3 705.3,927.2 706.6,927.2 707.9,927.7 709.2,927.5 710.6,927.9 711.9,926.9 713.2,927.5 714.5,928.4 715.8,927.3 717.2,927.9 718.5,927.8 719.8,927.5 721.1,928.7 722.5,927.5 723.8,928.4 725.1,927.3 726.4,927.2 727.7,928.6 729.1,927.9 730.4,927.2 731.7,927.8 733.0,927.9 734.3,928.5 735.7,927.4 737.0,927.6 738.3,928.9 739.6,928.5 740.9,927.5 742.3,927.9 743.6,927.9 744.9,928.5 746.2,928.4 747.5,928.8 748.9,928.8 750.2,928.3 751.5,928.7 752.8,928.7 754.2,928.8 755.5,928.3 756.8,928.8 758.1,928.7 759.4,929.1 760.8,927.7 762.1,929.1 763.4,927.5 764.7,928.9 766.0,928.6 767.4,928.5 768.7,929.3 770.0,928.5 771.7,925.8 773.3,922.7 775.0,920.0 776.5,918.2 777.9,916.1 779.4,913.2 780.9,916.0 782.5,918.2 784.0,921.0 785.6,923.1 787.3,925.3 788.9,927.6 790.3,925.5 791.6,922.2 793.0,920.0 797.0,905.0 800.0,893.0 801.9,888.8 803.5,895.0 805.0,910.0 808.2,924.0 812.0,915.0 815.0,902.0 817.5,895.0 819.6,893.3 822.0,902.0 825.0,912.0 826.5,912.3 827.9,913.1 829.3,913.4 830.8,914.1 832.2,916.4 833.6,919.9 835.0,922.0 836.3,924.5 837.6,925.7 839.0,927.4 840.3,928.8 841.6,931.2 842.9,930.8 844.2,930.6 845.6,931.3 846.9,931.3 848.2,930.5 849.5,932.0 850.9,930.9 852.2,931.8 853.5,931.8 854.8,932.0 856.2,930.7 857.5,931.1 858.8,931.9 860.1,930.3 861.5,930.4 862.8,931.3 864.1,931.2 865.4,932.0 866.8,931.7 868.1,931.3 869.4,932.1 870.7,931.2 872.1,931.2 873.4,931.5 874.7,931.0 876.0,930.9 877.4,931.4 878.7,930.9 880.0,931.2 881.4,931.4 882.8,930.2 884.2,929.3 885.6,927.9 887.0,928.0 888.5,927.4 890.0,927.2 891.5,927.1 893.0,926.7 894.5,927.9 896.0,929.5 897.5,930.8 899.0,931.0 900.5,931.5 902.0,931.9 903.5,932.7 905.0,933.0 906.3,933.9 907.7,932.7 909.0,933.1 910.3,933.6 911.7,932.4 913.0,932.7 914.3,933.9 915.7,933.6 917.0,933.0 918.3,932.3 919.7,933.7 921.0,933.3 922.3,933.6 923.7,933.9 925.0,933.0 926.4,932.9 927.8,931.3 929.2,930.0 930.6,929.4 932.0,929.0 933.7,926.7 935.3,924.3 937.0,922.0 938.6,918.8 940.2,916.2 941.8,914.1 945.0,920.0 948.0,930.0 952.0,933.0 953.3,933.2 954.6,933.1 956.0,932.6 957.3,933.8 958.6,933.1 959.9,932.0 961.2,932.6 962.5,933.3 963.9,932.4 965.2,933.0 966.5,931.8 967.8,932.3 969.1,933.2 970.5,932.7 971.8,932.8 973.1,931.9 974.4,932.5 975.7,932.5 977.0,932.0 978.4,932.6 979.7,932.4 981.0,933.2 982.3,932.4 983.6,932.1 985.0,931.5 986.3,931.6 987.6,932.6 988.9,931.4 990.2,931.4 991.5,931.5 992.9,932.1 994.2,932.6 995.5,932.2 996.8,932.5 998.1,931.1 999.5,931.0 1000.8,932.3 1002.1,931.5 1003.4,932.1 1004.7,931.5 1006.0,931.1 1007.4,931.2 1008.7,930.9 1010.0,931.6 1011.4,932.0 1012.9,931.0 1014.3,930.2 1015.7,930.0 1017.1,929.5 1018.6,928.6 1020.0,929.0 1021.4,928.3 1022.8,926.3 1024.2,925.6 1025.6,923.3 1027.0,922.0 1028.5,919.7 1030.1,916.5 1031.6,913.7 1033.2,912.8 1034.7,909.5 1038.0,917.0 1039.3,921.0 1040.6,923.4 1041.9,927.8 1043.2,930.5 1044.6,930.0 1045.9,927.9 1047.3,927.4 1048.6,926.9 1050.0,925.0 1051.7,923.0 1053.3,921.8 1055.0,919.0 1056.7,918.2 1058.3,918.1 1060.0,917.9 1061.7,919.7 1063.3,920.1 1065.0,922.0 1066.7,924.3 1068.3,928.0 1070.0,930.0 1071.4,930.0 1072.9,930.7 1074.3,929.8 1075.7,929.7 1077.1,930.1 1078.6,929.9 1080.0,930.5 1081.3,931.3 1082.7,930.1 1084.0,930.6 1085.3,929.8 1086.7,930.6 1088.0,930.3 1089.3,930.3 1090.7,929.7 1092.0,930.5 1093.6,929.5 1095.3,930.4 1096.9,929.5 1098.6,930.1 1100.3,930.7 1102.0,932.0 1103.3,931.5 1104.7,931.8 1106.0,931.8 1107.3,931.6 1108.7,932.8 1110.0,932.6 1111.3,932.3 1112.6,932.0 1114.0,933.0 1115.3,931.9 1116.6,932.2 1117.9,933.2 1119.2,931.9 1120.6,932.5 1121.9,933.2 1123.2,933.1 1124.5,932.0 1125.8,932.3 1127.2,933.0 1128.5,932.4 1129.8,933.4 1131.1,932.1 1132.5,933.4 1133.8,932.6 1135.1,932.1 1136.4,932.5 1137.7,931.9 1139.1,933.0 1140.4,932.2 1141.7,933.3 1143.0,932.8 1144.3,932.4 1145.7,932.1 1147.0,932.8 1148.3,932.1 1149.6,933.3 1150.9,931.9 1152.3,932.6 1153.6,932.7 1154.9,932.2 1156.2,933.1 1157.5,932.4 1158.9,932.9 1160.2,932.7 1161.5,932.3 1162.8,932.4 1164.2,931.9 1165.5,932.0 1166.8,933.2 1168.1,932.3 1169.4,932.9 1170.8,931.9 1172.1,932.7 1173.4,932.4 1174.7,932.6 1176.0,932.2 1177.4,931.8 1178.7,932.3 1180.0,932.6 1181.3,931.2 1182.7,930.1 1184.0,930.2 1185.3,928.5 1186.7,927.8 1188.0,927.0 1189.4,927.6 1190.8,927.2 1192.2,927.3 1193.6,927.1 1195.0,926.3 1196.4,925.6 1197.8,925.9 1199.2,925.5 1200.6,926.6 1202.0,926.3 1203.3,926.1 1204.7,925.0 1206.1,924.6 1207.4,924.2 1208.9,926.1 1210.5,927.8 1212.0,929.0 1213.5,929.7 1215.0,932.0 1216.5,932.3 1218.0,933.7 1219.3,933.9 1220.6,933.1 1222.0,933.0 1223.3,934.4 1224.6,934.1 1225.9,934.1 1227.2,932.9 1228.6,932.9 1229.9,933.1 1231.2,933.2 1232.5,933.3 1233.9,933.5 1235.2,932.9 1236.5,933.4 1237.8,933.9 1239.1,933.1 1240.5,934.3 1241.8,933.8 1243.1,934.1 1244.4,933.3 1245.8,933.6 1247.1,934.0 1248.4,933.4 1249.7,932.8 1251.0,934.3 1252.4,934.2 1253.7,933.3 1255.0,933.7 1256.3,932.3 1257.7,933.1 1259.0,932.1 1260.3,930.5 1261.6,930.2 1263.0,929.4 1264.3,929.5 1265.8,930.7 1267.4,930.4 1268.9,932.3 1270.5,932.7 1272.0,933.0 1273.3,932.5 1274.7,933.9 1276.0,933.7 1277.3,934.6 1278.7,935.0 1280.0,934.7 1281.3,934.2 1282.7,933.7 1284.0,935.1 1285.3,934.0 1286.7,934.8 1288.0,934.2 1289.3,934.1 1290.7,934.2 1292.0,933.7 1293.3,933.2 1294.7,932.4 1296.0,933.4 1297.3,932.8 1298.7,932.8 1300.0,932.6 1301.3,932.6 1302.7,930.4 1304.0,930.8 1305.3,928.7 1306.7,929.1 1308.0,928.0 1309.4,928.5 1310.8,927.5 1312.1,928.0 1313.5,928.8 1314.9,928.2 1316.2,928.0 1317.6,927.4 1319.0,927.1 1320.4,927.6 1321.8,927.7 1323.1,927.3 1324.5,927.4 1325.9,927.1 1327.2,928.1 1328.6,928.0 1330.0,927.7 1331.3,928.0 1332.7,928.9 1334.0,930.2 1335.3,930.9 1336.7,932.6 1338.0,932.6 1339.3,932.3 1340.7,932.2 1342.0,933.3 1343.3,932.0 1344.7,932.7 1346.0,932.3 1347.3,933.2 1348.7,932.7 1350.0,933.1 1351.3,932.0 1352.7,932.9 1354.0,932.8 1355.3,932.5 1356.7,933.1 1358.0,933.2 1359.3,931.9 1360.7,932.2 1362.0,932.3 1363.3,932.1 1364.7,931.8 1366.0,932.2 1367.3,932.1 1368.7,933.0 1370.0,932.6 1371.7,931.0 1373.3,928.8 1375.0,928.0 1376.3,926.1 1377.7,924.8 1379.1,923.0 1380.4,921.7 1381.9,922.3 1383.4,923.3 1385.0,924.4 1386.5,927.4 1388.0,927.7 1389.4,927.6 1390.8,925.9 1392.2,926.5 1393.6,926.4 1395.0,925.0 1396.6,924.8 1398.2,923.6 1399.7,924.0 1401.3,923.7 1402.6,924.2 1404.0,924.5 1405.3,925.8 1406.7,925.5 1408.0,927.0 1409.4,927.8 1410.8,927.4 1412.1,927.5 1413.5,928.1 1414.9,927.7 1416.2,927.1 1417.6,927.2 1419.0,927.7 1420.5,927.9 1422.0,928.5 1423.5,930.6 1425.0,931.6 1426.5,931.4 1428.0,932.6 1429.3,932.0 1430.6,932.8 1431.9,933.2 1433.2,933.4 1434.5,932.0 1435.8,933.1 1437.1,933.2 1438.4,933.0 1439.7,932.3 1441.0,932.0 1442.3,933.2 1443.6,932.3 1444.9,932.4 1446.2,932.7 1447.5,932.4 1448.8,933.2 1450.1,932.1 1451.4,931.8 1452.7,932.7 1454.0,932.8 1455.3,933.2 1456.6,933.0 1457.9,933.3 1459.2,933.4 1460.5,932.6 1461.8,932.6 1463.1,932.0 1464.4,932.2 1465.7,932.7 1467.0,931.8 1468.3,932.9 1469.6,932.0 1470.9,932.5 1472.2,933.4 1473.5,931.9 1474.8,931.8 1476.1,932.5 1477.4,932.0 1478.7,933.0 1480.0,932.6 1481.7,930.7 1483.3,931.2 1485.0,929.6 1486.4,930.2 1487.7,930.1 1489.1,929.5 1490.5,929.2 1491.8,929.9 1493.2,929.6 1494.5,929.5 1495.9,929.3 1497.3,929.5 1498.6,929.9 1500.0,929.6 1501.3,930.1 1502.7,930.1 1504.0,928.7 1505.3,928.8 1506.7,929.0 1508.0,929.0 1509.4,928.7 1510.8,928.0 1512.2,927.3 1513.6,926.7 1515.0,926.8 1516.4,926.7 1517.8,927.7 1519.2,929.7 1520.6,930.7 1522.0,931.0 1523.3,932.4 1524.7,933.3 1526.0,933.9 1527.3,934.0 1528.7,935.1 1530.0,935.2 1531.3,934.4 1532.6,935.5 1533.9,935.4 1535.2,934.8 1536.5,935.3 1537.8,936.0 1539.1,935.2 1540.4,935.5 1541.7,934.8 1543.0,934.9 1544.3,935.9 1545.7,934.4 1547.0,934.6 1548.3,935.5 1549.6,935.1 1550.9,934.5 1552.2,935.5 1553.5,935.0 1554.8,935.3 1556.1,935.0 1557.4,935.3 1558.7,935.3 1560.0,935.0 1561.3,934.5 1562.6,934.6 1563.9,935.9 1565.2,935.3 1566.5,934.5 1567.8,935.9 1569.1,934.8 1570.4,934.5 1571.7,935.3 1573.0,934.8 1574.3,935.2 1575.7,935.3 1577.0,934.7 1578.3,935.3 1579.6,934.5 1580.9,935.2 1582.2,935.4 1583.5,934.4 1584.8,935.0 1586.1,934.4 1587.4,935.1 1588.7,935.9 1590.0,935.2 1591.7,933.4 1593.3,931.9 1595.0,929.6 1596.7,931.2 1598.3,931.2 1600.0,933.0 1601.4,933.9 1602.8,933.4 1604.1,932.3 1605.5,933.6 1606.9,932.9 1608.2,932.5 1609.6,933.9 1611.0,933.2 1612.4,933.6 1613.8,932.5 1615.1,933.6 1616.5,932.4 1617.9,932.7 1619.2,932.9 1620.6,932.3 1622.0,933.2" fill="none" stroke="#fb4521" stroke-width="3.6" stroke-linejoin="miter" stroke-miterlimit="3"/><polygon points="219.3,850.0 220.8,800.0 223.3,770.0 224.7,706.0 225.8,770.0 227.2,826.0 227.0,870.0 219.0,870.0" fill="#fb4521"/><polygon points="509.5,882.0 511.5,877.0 513.5,882.0 513.6,900.0 509.0,900.0" fill="#fb4521"/>
<path d="M106.0,1049.2 107.3,1049.4 108.7,1048.7 110.0,1048.8 111.3,1049.6 112.7,1049.1 114.0,1049.9 115.3,1049.4 116.7,1049.9 118.0,1049.3 119.3,1050.0 120.7,1049.9 122.0,1048.6 123.3,1049.6 124.7,1048.9 126.0,1049.7 127.3,1049.5 128.7,1049.8 130.0,1048.5 131.3,1049.0 132.7,1049.6 134.0,1050.0 135.3,1049.6 136.7,1048.4 138.0,1049.4 139.3,1048.5 140.7,1049.3 142.0,1049.7 143.3,1048.5 144.7,1050.0 146.0,1049.5 147.3,1048.8 148.7,1048.6 150.0,1049.2 151.3,1049.1 152.7,1049.8 154.0,1049.4 155.3,1048.5 156.7,1048.4 158.0,1048.5 159.3,1049.8 160.7,1048.7 162.0,1049.3 163.3,1048.9 164.7,1049.6 166.0,1049.0 167.3,1048.6 168.7,1049.9 170.0,1049.3 171.3,1049.6 172.7,1049.8 174.0,1050.1 175.3,1048.4 176.7,1049.0 178.0,1048.6 179.3,1049.3 180.7,1049.9 182.0,1049.8 183.3,1048.4 184.7,1048.7 186.0,1049.9 187.3,1049.6 188.7,1049.1 190.0,1049.3 191.5,1048.9 193.0,1047.9 194.5,1048.8 196.0,1047.6 197.5,1048.1 199.0,1047.0 200.4,1046.0 201.8,1043.8 203.2,1043.1 204.6,1041.7 206.0,1041.0 209.0,1034.0 210.4,1030.4 211.9,1025.5 213.3,1021.0 216.2,1010.0 218.5,995.0 218.8,944.0 221.2,856.0 221.7,853.5 223.5,880.0 224.9,894.2 226.3,909.4 227.7,925.0 227.7,1023.0 229.7,1030.0 231.4,1037.5 234.0,1045.0 235.5,1046.1 237.1,1047.6 238.6,1049.0 239.9,1049.1 241.2,1048.8 242.6,1048.7 243.9,1048.1 245.2,1049.1 246.5,1048.6 247.8,1048.0 249.1,1048.8 250.5,1049.8 251.8,1048.1 253.1,1048.2 254.4,1049.2 255.7,1048.4 257.1,1048.4 258.4,1048.8 259.7,1048.4 261.0,1048.9 262.3,1048.8 263.6,1049.6 265.0,1049.6 266.3,1047.9 267.6,1048.8 268.9,1049.2 270.2,1049.4 271.5,1049.2 272.9,1048.9 274.2,1048.9 275.5,1048.4 276.8,1048.2 278.1,1049.1 279.5,1049.3 280.8,1049.4 282.1,1048.9 283.4,1048.2 284.7,1049.0 286.0,1049.0 287.4,1048.5 288.7,1048.8 290.0,1048.5 291.4,1047.9 292.9,1048.0 294.3,1047.5 295.7,1046.6 297.1,1046.8 298.6,1046.5 300.0,1046.5 301.3,1047.4 302.6,1046.5 303.9,1046.3 305.2,1046.0 306.5,1046.0 307.8,1046.2 309.1,1045.8 310.4,1045.6 311.7,1047.2 313.0,1046.4 314.3,1046.4 315.7,1046.6 317.0,1046.1 318.3,1045.9 319.6,1045.7 320.9,1046.1 322.2,1046.2 323.5,1046.9 324.8,1046.6 326.1,1047.3 327.4,1046.2 328.7,1047.3 330.0,1046.5 331.4,1046.9 332.9,1046.2 334.3,1046.6 335.7,1047.5 337.1,1048.4 338.6,1047.5 340.0,1048.0 341.4,1048.5 342.7,1047.9 344.1,1048.7 345.5,1047.2 346.8,1048.0 348.2,1048.7 349.5,1047.6 350.9,1047.6 352.3,1047.1 353.6,1047.4 355.0,1048.0 356.7,1046.9 358.3,1047.0 360.0,1046.0 361.7,1043.5 363.3,1041.8 365.0,1040.0 369.0,1030.0 372.0,1018.0 374.9,1007.7 377.0,1012.0 378.5,1025.0 379.5,1040.0 381.0,1046.0 385.0,1048.0 386.4,1047.4 387.7,1048.1 389.1,1048.5 390.5,1048.1 391.8,1047.2 393.2,1048.1 394.5,1048.5 395.9,1047.8 397.3,1046.8 398.6,1048.1 400.0,1047.5 401.3,1048.2 402.7,1047.2 404.0,1046.8 405.3,1046.9 406.7,1047.6 408.0,1048.2 409.3,1047.8 410.7,1048.3 412.0,1047.0 413.3,1047.2 414.7,1047.9 416.0,1047.8 417.3,1047.3 418.7,1047.8 420.0,1047.5 421.3,1047.2 422.7,1046.6 424.0,1047.2 425.3,1046.5 426.7,1047.5 428.0,1047.0 429.3,1047.2 430.7,1047.3 432.0,1046.7 433.3,1047.0 434.7,1046.2 436.0,1047.0 437.3,1047.8 438.7,1047.1 440.0,1047.9 441.3,1046.2 442.6,1047.2 444.0,1047.4 445.3,1046.7 446.6,1046.3 447.9,1046.4 449.3,1046.4 450.6,1047.5 451.9,1046.3 453.2,1047.6 454.6,1046.9 455.9,1047.1 457.2,1047.2 458.5,1047.1 459.9,1047.3 461.2,1047.2 462.5,1046.7 463.8,1047.4 465.2,1046.6 466.5,1047.4 467.8,1047.5 469.2,1047.5 470.5,1046.7 471.8,1047.5 473.1,1047.9 474.5,1046.9 475.8,1046.6 477.1,1047.0 478.4,1047.8 479.8,1046.3 481.1,1046.1 482.4,1047.0 483.7,1047.3 485.1,1047.5 486.4,1046.8 487.7,1047.9 489.0,1046.5 490.4,1047.5 491.7,1046.3 493.0,1046.2 494.3,1046.3 495.7,1046.2 497.0,1047.0 500.0,1046.0 502.5,1041.0 504.5,1030.0 506.5,1026.0 509.0,1017.0 509.3,995.0 510.0,972.0 511.6,966.8 513.3,972.0 513.5,995.0 514.0,1038.0 516.0,1021.0 516.3,1040.0 519.0,1044.5 522.0,1045.0 523.3,1045.0 524.7,1045.0 526.0,1044.3 527.3,1045.7 528.7,1044.6 530.0,1044.8 531.4,1043.4 532.9,1042.8 534.3,1043.1 535.8,1042.7 537.2,1041.2 538.8,1041.7 540.4,1042.6 542.0,1044.5 543.4,1044.8 544.9,1043.6 546.3,1044.7 547.7,1043.6 549.1,1043.7 550.6,1042.9 552.0,1043.0 553.5,1042.3 555.0,1040.4 556.5,1038.9 558.0,1038.0 559.4,1038.2 560.7,1036.1 562.0,1036.7 563.4,1035.7 564.8,1035.7 566.2,1037.6 567.6,1038.0 569.0,1039.0 570.3,1040.9 571.6,1040.7 572.9,1042.8 574.2,1043.9 575.7,1042.8 577.1,1042.7 578.5,1041.8 580.0,1040.0 581.7,1038.6 583.3,1036.2 585.0,1035.0 589.0,1028.0 592.2,1024.0 595.0,1030.0 598.0,1038.0 602.0,1042.0 603.3,1041.6 604.6,1041.6 605.9,1041.9 607.2,1041.5 608.6,1041.5 609.9,1042.5 611.2,1042.3 612.5,1041.6 613.8,1042.9 615.1,1041.5 616.4,1042.1 617.8,1041.4 619.1,1042.7 620.4,1042.7 621.7,1041.6 623.0,1042.5 624.3,1042.6 625.6,1041.6 626.9,1041.7 628.2,1042.0 629.6,1042.7 630.9,1041.4 632.2,1042.3 633.5,1042.2 634.8,1041.9 636.1,1042.1 637.4,1042.7 638.8,1041.5 640.1,1042.7 641.4,1041.7 642.7,1042.5 644.0,1042.7 645.3,1041.4 646.6,1042.7 647.9,1042.9 649.2,1041.6 650.6,1041.1 651.9,1041.3 653.2,1042.9 654.5,1041.1 655.8,1042.7 657.1,1041.4 658.4,1042.4 659.8,1041.3 661.1,1041.4 662.4,1042.3 663.7,1041.3 665.0,1042.0 666.7,1039.7 668.3,1038.8 670.0,1036.0 674.0,1024.0 676.0,1009.6 678.5,975.0 680.7,964.4 683.0,975.0 684.5,1000.0 685.5,1020.0 687.0,1033.0 690.0,1040.0 691.4,1040.7 692.9,1041.3 694.3,1041.7 695.7,1040.3 697.1,1041.0 698.6,1042.2 700.0,1042.0 701.3,1042.4 702.6,1041.2 704.0,1042.1 705.3,1041.7 706.6,1042.1 707.9,1041.5 709.2,1041.4 710.6,1043.2 711.9,1042.0 713.2,1043.0 714.5,1041.7 715.8,1042.4 717.2,1041.8 718.5,1042.4 719.8,1042.0 721.1,1042.9 722.5,1042.0 723.8,1043.1 725.1,1042.7 726.4,1042.0 727.7,1042.5 729.1,1042.8 730.4,1043.6 731.7,1042.6 733.0,1042.4 734.3,1043.8 735.7,1043.7 737.0,1043.4 738.3,1042.6 739.6,1042.5 740.9,1042.7 742.3,1042.4 743.6,1042.4 744.9,1043.2 746.2,1043.1 747.5,1043.4 748.9,1043.1 750.2,1042.5 751.5,1043.7 752.8,1043.7 754.2,1043.5 755.5,1043.6 756.8,1043.9 758.1,1044.4 759.4,1044.3 760.8,1044.0 762.1,1043.5 763.4,1043.4 764.7,1043.6 766.0,1044.6 767.4,1043.6 768.7,1043.7 770.0,1043.9 771.5,1042.0 773.0,1039.8 774.5,1039.6 776.0,1037.0 777.3,1035.1 778.6,1035.2 779.9,1034.8 781.2,1033.0 785.0,1038.0 786.4,1039.2 787.9,1041.5 789.3,1043.0 793.0,1035.0 797.0,1018.0 800.0,1000.5 802.8,982.5 805.0,995.0 807.0,1015.0 810.0,1034.0 814.0,1025.0 817.0,1016.0 819.6,1013.2 822.0,1022.0 824.0,1035.0 827.2,1042.0 831.0,1038.0 832.3,1037.0 833.6,1035.9 834.9,1035.1 836.2,1034.8 840.0,1038.0 841.7,1039.6 843.3,1043.3 845.0,1045.0 846.7,1046.3 848.3,1047.4 850.0,1047.5 851.3,1046.7 852.6,1047.8 853.9,1047.2 855.2,1047.8 856.5,1047.6 857.8,1047.2 859.1,1048.3 860.4,1046.6 861.7,1047.9 863.0,1048.1 864.3,1047.5 865.7,1047.7 867.0,1048.4 868.3,1047.0 869.6,1047.7 870.9,1047.9 872.2,1047.3 873.5,1047.9 874.8,1047.3 876.1,1047.5 877.4,1047.7 878.7,1047.8 880.0,1047.5 881.4,1046.3 882.8,1045.9 884.2,1044.9 885.6,1043.4 887.0,1043.0 891.0,1038.0 892.6,1037.1 894.2,1035.4 895.8,1034.8 897.2,1037.3 898.6,1038.2 900.0,1040.0 901.7,1042.9 903.3,1045.0 905.0,1047.5 906.3,1047.5 907.6,1047.0 908.9,1046.9 910.3,1048.3 911.6,1047.6 912.9,1047.5 914.2,1047.5 915.5,1048.1 916.8,1047.0 918.2,1046.9 919.5,1048.1 920.8,1047.4 922.1,1047.8 923.4,1048.1 924.7,1048.2 926.1,1048.2 927.4,1046.7 928.7,1047.3 930.0,1047.5 931.4,1047.4 932.8,1046.7 934.2,1044.7 935.6,1044.1 937.0,1044.0 941.0,1040.0 944.5,1036.6 948.0,1042.0 952.0,1047.0 953.3,1046.8 954.7,1046.8 956.0,1047.4 957.3,1048.5 958.7,1048.2 960.0,1048.4 961.3,1048.3 962.6,1047.7 963.9,1048.2 965.2,1049.3 966.5,1048.8 967.8,1048.4 969.1,1048.4 970.4,1049.0 971.7,1049.0 973.0,1047.9 974.3,1048.8 975.7,1048.3 977.0,1048.6 978.3,1048.1 979.6,1048.3 980.9,1048.3 982.2,1048.4 983.5,1047.7 984.8,1048.1 986.1,1048.7 987.4,1047.8 988.7,1048.1 990.0,1049.0 991.3,1048.3 992.6,1048.4 993.9,1048.2 995.2,1049.3 996.5,1048.0 997.8,1049.0 999.1,1049.4 1000.4,1048.2 1001.7,1048.6 1003.0,1049.3 1004.3,1049.0 1005.7,1048.5 1007.0,1048.0 1008.3,1048.7 1009.6,1048.6 1010.9,1049.2 1012.2,1048.5 1013.5,1048.7 1014.8,1049.1 1016.1,1049.4 1017.4,1048.6 1018.7,1048.7 1020.0,1048.9 1021.5,1048.3 1023.0,1048.2 1024.5,1046.2 1026.0,1046.0 1030.0,1038.0 1033.0,1025.0 1035.8,1019.0 1039.0,1027.0 1042.0,1040.0 1043.3,1042.2 1044.7,1043.0 1046.1,1043.7 1047.4,1045.3 1048.9,1044.5 1050.5,1042.8 1052.0,1042.0 1056.0,1037.0 1057.7,1035.5 1059.3,1035.9 1061.0,1034.7 1062.7,1035.6 1064.3,1036.9 1066.0,1038.0 1067.5,1039.2 1069.0,1041.2 1070.5,1042.2 1072.0,1043.0 1073.3,1042.5 1074.7,1043.8 1076.0,1043.9 1077.3,1044.3 1078.7,1045.3 1080.0,1045.0 1081.3,1044.8 1082.7,1045.0 1084.0,1045.7 1085.3,1044.9 1086.7,1045.0 1088.0,1045.0 1089.3,1045.6 1090.7,1045.3 1092.0,1045.0 1093.6,1045.2 1095.3,1044.3 1096.9,1044.2 1098.6,1044.6 1100.3,1047.1 1102.0,1048.0 1103.3,1048.5 1104.7,1049.3 1106.0,1049.7 1107.3,1049.0 1108.7,1049.6 1110.0,1050.5 1111.3,1049.7 1112.6,1051.1 1114.0,1049.8 1115.3,1049.8 1116.6,1051.0 1117.9,1050.6 1119.2,1049.7 1120.6,1050.8 1121.9,1050.9 1123.2,1050.5 1124.5,1049.7 1125.8,1050.8 1127.2,1050.4 1128.5,1050.7 1129.8,1051.4 1131.1,1051.1 1132.5,1051.2 1133.8,1049.9 1135.1,1050.2 1136.4,1050.5 1137.7,1049.6 1139.1,1051.4 1140.4,1050.1 1141.7,1050.1 1143.0,1050.2 1144.3,1050.1 1145.7,1051.1 1147.0,1050.6 1148.3,1050.5 1149.6,1050.4 1150.9,1049.7 1152.3,1050.1 1153.6,1051.2 1154.9,1051.0 1156.2,1051.1 1157.5,1050.1 1158.9,1050.0 1160.2,1049.7 1161.5,1050.6 1162.8,1050.3 1164.2,1050.4 1165.5,1050.5 1166.8,1050.7 1168.1,1050.3 1169.4,1051.0 1170.8,1050.0 1172.1,1051.3 1173.4,1050.6 1174.7,1049.7 1176.0,1050.2 1177.4,1050.6 1178.7,1050.3 1180.0,1050.5 1181.3,1049.9 1182.7,1048.7 1184.0,1047.8 1185.3,1048.0 1186.7,1046.4 1188.0,1046.0 1189.4,1046.2 1190.8,1046.3 1192.2,1045.7 1193.6,1045.4 1195.0,1045.3 1196.4,1046.1 1197.8,1045.2 1199.2,1046.0 1200.6,1044.5 1202.0,1045.3 1203.3,1044.1 1204.7,1043.5 1206.1,1041.3 1207.4,1041.1 1208.9,1043.4 1210.5,1043.6 1212.0,1046.0 1213.3,1046.9 1214.7,1046.9 1216.0,1049.0 1217.3,1049.1 1218.7,1050.3 1220.0,1050.5 1221.3,1050.5 1222.7,1050.8 1224.0,1050.8 1225.4,1050.1 1226.7,1050.0 1228.1,1051.1 1229.4,1049.9 1230.8,1051.3 1232.1,1050.0 1233.5,1049.8 1234.8,1049.8 1236.2,1051.0 1237.5,1051.3 1238.8,1050.3 1240.2,1050.8 1241.5,1050.1 1242.9,1051.2 1244.2,1050.8 1245.6,1049.9 1246.9,1049.7 1248.3,1050.9 1249.6,1049.7 1251.0,1051.1 1252.3,1050.1 1253.7,1050.0 1255.0,1050.5 1256.7,1049.1 1258.3,1047.2 1260.0,1046.0 1261.3,1045.4 1262.7,1044.0 1264.0,1044.6 1265.3,1043.2 1266.6,1043.8 1268.0,1045.7 1269.3,1045.5 1270.7,1047.6 1272.0,1048.0 1273.3,1049.3 1274.7,1048.6 1276.0,1048.4 1277.3,1049.5 1278.7,1050.3 1280.0,1050.5 1281.4,1050.0 1282.8,1050.6 1284.2,1049.8 1285.5,1050.4 1286.9,1050.9 1288.3,1050.4 1289.7,1050.8 1291.1,1049.8 1292.5,1051.1 1293.8,1049.8 1295.2,1051.3 1296.6,1051.4 1298.0,1050.5 1299.7,1049.5 1301.3,1046.9 1303.0,1045.0 1304.5,1043.5 1305.9,1042.5 1307.3,1042.1 1308.8,1040.5 1310.2,1040.2 1311.7,1038.3 1313.1,1038.6 1314.5,1040.4 1315.8,1042.2 1317.2,1042.7 1318.6,1043.7 1320.0,1044.7 1321.4,1042.8 1322.7,1041.7 1324.1,1040.7 1325.4,1040.6 1326.8,1038.7 1328.3,1040.6 1329.9,1040.9 1331.5,1043.4 1333.0,1044.0 1334.4,1044.3 1335.8,1046.4 1337.2,1048.2 1338.6,1048.2 1340.0,1049.6 1341.3,1050.4 1342.6,1049.9 1343.9,1048.8 1345.2,1049.3 1346.5,1049.5 1347.8,1049.1 1349.1,1050.0 1350.4,1049.0 1351.7,1050.1 1353.0,1049.2 1354.3,1048.8 1355.7,1049.7 1357.0,1048.9 1358.3,1049.7 1359.6,1050.1 1360.9,1049.8 1362.2,1049.5 1363.5,1048.8 1364.8,1049.6 1366.1,1048.9 1367.4,1049.9 1368.7,1048.9 1370.0,1049.6 1371.7,1047.5 1373.3,1044.9 1375.0,1043.0 1376.6,1040.2 1378.2,1038.2 1379.8,1034.7 1381.4,1032.8 1382.8,1034.6 1384.2,1038.4 1385.6,1039.6 1387.0,1042.9 1388.4,1044.7 1389.8,1043.7 1391.2,1041.3 1392.6,1039.0 1394.0,1038.0 1395.6,1036.0 1397.2,1036.1 1398.7,1033.4 1400.3,1032.8 1401.7,1034.6 1403.2,1036.5 1404.6,1037.5 1406.0,1040.0 1407.4,1041.3 1408.9,1042.1 1410.3,1044.1 1411.8,1045.4 1413.2,1046.7 1414.5,1046.0 1415.8,1045.2 1417.2,1045.0 1418.5,1044.2 1419.8,1043.5 1421.1,1043.7 1422.5,1044.2 1423.9,1046.3 1425.2,1046.6 1426.6,1048.3 1428.0,1048.6 1429.3,1047.7 1430.6,1049.4 1431.9,1048.6 1433.2,1049.1 1434.6,1048.7 1435.9,1048.9 1437.2,1048.1 1438.5,1049.1 1439.8,1048.0 1441.1,1048.2 1442.4,1047.8 1443.8,1048.4 1445.1,1048.6 1446.4,1048.2 1447.7,1049.3 1449.0,1047.9 1450.3,1048.7 1451.6,1048.1 1452.9,1048.8 1454.2,1049.1 1455.6,1049.0 1456.9,1047.8 1458.2,1048.1 1459.5,1048.8 1460.8,1049.5 1462.1,1047.8 1463.4,1048.8 1464.8,1048.9 1466.1,1049.2 1467.4,1048.3 1468.7,1049.2 1470.0,1048.6 1471.3,1047.8 1472.7,1047.9 1474.0,1045.5 1475.3,1046.4 1476.7,1044.8 1478.0,1044.0 1479.4,1042.7 1480.7,1042.7 1482.0,1043.0 1483.4,1044.5 1484.7,1045.2 1486.0,1044.9 1487.3,1046.0 1488.7,1046.3 1490.0,1047.7 1491.4,1047.2 1492.7,1047.2 1494.1,1047.4 1495.5,1048.6 1496.8,1048.6 1498.2,1048.2 1499.5,1047.7 1500.9,1047.7 1502.3,1048.2 1503.6,1048.4 1505.0,1047.7 1506.4,1047.8 1507.8,1047.3 1509.2,1046.1 1510.6,1046.6 1512.0,1046.0 1513.3,1046.1 1514.6,1045.4 1515.9,1043.7 1517.2,1044.2 1518.5,1043.0 1519.8,1042.2 1521.1,1043.1 1522.4,1041.7 1523.8,1043.1 1525.2,1044.3 1526.6,1044.3 1528.0,1046.0 1529.4,1047.3 1530.8,1048.2 1532.2,1048.9 1533.6,1049.3 1535.0,1049.6 1536.3,1050.2 1537.6,1050.1 1538.9,1049.8 1540.2,1049.5 1541.5,1050.2 1542.8,1050.1 1544.1,1050.3 1545.4,1049.2 1546.7,1050.4 1548.0,1049.7 1549.3,1050.4 1550.6,1048.9 1551.9,1050.4 1553.2,1050.1 1554.5,1049.2 1555.8,1050.2 1557.1,1049.1 1558.4,1049.1 1559.7,1049.5 1561.0,1049.1 1562.3,1049.6 1563.6,1050.3 1564.9,1049.9 1566.2,1050.0 1567.5,1049.4 1568.8,1050.1 1570.1,1050.1 1571.4,1049.9 1572.7,1050.4 1574.0,1050.2 1575.3,1049.4 1576.6,1048.9 1577.9,1049.9 1579.2,1050.2 1580.5,1049.3 1581.8,1049.8 1583.1,1050.2 1584.4,1050.1 1585.7,1048.7 1587.0,1049.6 1588.3,1048.7 1589.6,1048.9 1590.9,1050.2 1592.2,1049.5 1593.5,1049.8 1594.8,1049.5 1596.1,1049.3 1597.4,1049.1 1598.7,1049.3 1600.0,1049.6 1601.4,1050.1 1602.8,1049.5 1604.1,1048.8 1605.5,1048.3 1606.9,1048.5 1608.2,1049.1 1609.6,1048.5 1611.0,1048.7 1612.4,1048.9 1613.8,1047.5 1615.1,1048.3 1616.5,1047.0 1617.9,1048.3 1619.2,1047.0 1620.6,1047.0 1622.0,1047.3" fill="none" stroke="#0e110c" stroke-width="3.0" stroke-linejoin="miter" stroke-miterlimit="3"/><polygon points="219.5,944.0 221.5,856.0 223.5,880.0 227.7,925.0 227.7,1020.0 219.5,1000.0" fill="#0e110c"/><polygon points="509.3,995.0 510.0,972.0 511.6,966.8 513.3,972.0 513.5,995.0" fill="#0e110c"/><polygon points="678.5,976.0 680.7,966.0 683.0,976.0 684.0,1005.0 678.0,1005.0" fill="#0e110c"/><polygon points="800.5,998.0 802.8,983.0 805.0,998.0 805.3,1022.0 800.3,1022.0" fill="#0e110c"/>
<path d="M224.7,1137V846.4M306.6,1137V1107.4M555.0,1137V1118.9M563.7,1137V1113.6M623.6,1137V1118.9M773.8,1137V1118.9M803.7,1137V1107.9M817.7,1137V1115.9M828.7,1137V1107.9M908.0,1137V1118.9M919.0,1137V1118.9M943.3,1137V1118.9M947.6,1137V1118.9M1017.3,1137V1115.9M1042.0,1137V1104.7M1063.5,1137V1116.0M1080.2,1137V1116.0M1084.8,1137V1118.9M1104.9,1137V1118.9M1140.3,1137V1118.9M1164.5,1137V1118.9M1178.4,1137V1118.9M1186.5,1137V1118.9M1188.5,1137V1118.9M1190.5,1137V1118.9M1192.3,1137V1118.9M1200.1,1137V1116.0M1205.7,1137V1116.2M1211.3,1137V1113.4M1254.1,1137V1118.5M1262.5,1137V1118.5M1271.4,1137V1118.5M1309.9,1137V1118.5M1323.4,1137V1118.5M1367.0,1137V1118.5M1369.4,1137V1118.5M1388.8,1137V1118.5M1393.7,1137V1118.5M1397.3,1137V1118.5M1401.4,1137V1118.5M1405.2,1137V1118.5M1413.4,1137V1118.5M1419.5,1137V1116.0M1421.8,1137V1116.0M1424.0,1137V1118.5M1451.9,1137V1118.5M1483.9,1137V1118.5M1500.8,1137V1118.5M1511.6,1137V1118.5M1520.5,1137V1115.0M1522.8,1137V1118.5M1535.7,1137V1118.5M1547.2,1137V1118.5M1558.5,1137V1118.5M1574.6,1137V1118.5M1582.6,1137V1118.5M1595.8,1137V1118.5M1601.8,1137V1118.5M1618.7,1137V1118.5" stroke="#56468f" stroke-width="2.4" fill="none"/>
<path d="M511.5,1137V1094.2M738.3,1137V1118.9M784.8,1137V1102.2M952.2,1137V1118.9M1005.9,1137V1118.9M1031.0,1137V1115.9M1279.3,1137V1118.5M1358.8,1137V1118.5M1468.3,1137V1118.5M1475.5,1137V1118.5M1528.4,1137V1118.5" stroke="#56468f" stroke-width="2.2" fill="none" opacity="0.3"/>
<line x1="377.6" y1="617.0" x2="377.6" y2="1134" stroke="#fb7a25" stroke-width="2.7" stroke-dasharray="7.6 5.6" />
<line x1="437.7" y1="635.5" x2="437.7" y2="1134" stroke="#fb7a25" stroke-width="2.3" stroke-dasharray="7.6 5.6" opacity="0.2"/>
<line x1="594.0" y1="603.8" x2="594.0" y2="1134" stroke="#fb7a25" stroke-width="2.7" stroke-dasharray="7.6 5.6" />
<line x1="680.5" y1="579.3" x2="680.5" y2="1134" stroke="#fb7a25" stroke-width="2.7" stroke-dasharray="7.6 5.6" />
<line x1="943.5" y1="630.0" x2="943.5" y2="1134" stroke="#fb7a25" stroke-width="2.7" stroke-dasharray="7.6 5.6" />
<path d="M106,1159.5V9M1622.5,1159.5V9" fill="none" stroke="#121510" stroke-width="5"/>
<line x1="103.5" y1="10.6" x2="1625" y2="10.6" stroke="#121510" stroke-width="3.4"/>
<line x1="103.5" y1="1136" x2="1625" y2="1136" stroke="#121510" stroke-width="3.4"/>
<path d="M106.0,1136V1159.0M191.3,1136V1147.5M275.5,1136V1159.0M359.6,1136V1147.5M443.8,1136V1159.0M527.9,1136V1147.5M612.1,1136V1159.0M696.2,1136V1147.5M780.4,1136V1159.0M864.5,1136V1147.5M948.7,1136V1159.0M1032.8,1136V1147.5M1117.0,1136V1159.0M1201.1,1136V1147.5M1285.3,1136V1159.0M1369.4,1136V1147.5M1453.6,1136V1159.0M1537.8,1136V1147.5M1622.5,1136V1159.0" stroke="#121510" stroke-width="4.5" fill="none"/>
<g font-family="Liberation Serif, serif" font-weight="bold" font-size="47" fill="#121510"><text x="106.0" y="1208.5" text-anchor="middle">5</text><text x="275.5" y="1208.5" text-anchor="middle">10</text><text x="443.8" y="1208.5" text-anchor="middle">15</text><text x="612.1" y="1208.5" text-anchor="middle">20</text><text x="780.4" y="1208.5" text-anchor="middle">25</text><text x="948.7" y="1208.5" text-anchor="middle">30</text><text x="1117.0" y="1208.5" text-anchor="middle">35</text><text x="1285.3" y="1208.5" text-anchor="middle">40</text><text x="1453.6" y="1208.5" text-anchor="middle">45</text><text x="1622.5" y="1208.5" text-anchor="middle">50</text></g>
<text x="864" y="1295" text-anchor="middle" font-family="Liberation Serif, serif" font-size="57" font-weight="bold" fill="#121510">2θ(°)</text>
<text transform="translate(54,607.5) rotate(-90)" text-anchor="middle" font-family="Liberation Serif, serif" font-weight="bold" font-size="58" fill="#121510">Intensity(a.u.)</text>
<text x="1099.0" y="641.7" font-family="Liberation Serif, WenQuanYi Zen Hei, serif" font-size="57.5" letter-spacing="0.4" fill="#ae6aa8">MIL-121-100<tspan stroke="#fefbfa" stroke-width="1.6">℃</tspan></text>
<text x="1100.5" y="772.0" font-family="Liberation Serif, WenQuanYi Zen Hei, serif" font-size="57.5" letter-spacing="0.4" fill="#2c3f8c">MIL-121-90<tspan stroke="#fefbfa" stroke-width="1.6">℃</tspan></text>
<text x="1094.0" y="891.2" font-family="Liberation Serif, WenQuanYi Zen Hei, serif" font-size="57.5" letter-spacing="0.4" fill="#fb4521">MIL-121-80<tspan stroke="#fefbfa" stroke-width="1.6">℃</tspan></text>
<text x="1095.5" y="1003.3" font-family="Liberation Serif, WenQuanYi Zen Hei, serif" font-size="57.5" letter-spacing="0.4" fill="#0e110c">80<tspan stroke="#fefbfa" stroke-width="1.6">℃</tspan> ligand excess</text>
<text x="1095.5" y="1106.5" font-family="Liberation Serif, WenQuanYi Zen Hei, serif" font-size="57.5" letter-spacing="-0.8" fill="#56468f">MIL-121</text>
<text transform="translate(241.0,98.6) rotate(-90)" text-anchor="middle" font-family="Liberation Serif, serif" font-size="57.5" letter-spacing="1" fill="#fb7a25" stroke="#fefbfa" stroke-width="0.9">(-110)</text>
<text transform="translate(389.0,549.3) rotate(-90)" text-anchor="middle" font-family="Liberation Serif, serif" font-size="57.5" letter-spacing="1" fill="#fb7a25" stroke="#fefbfa" stroke-width="0.9">(020)</text>
<text transform="translate(450.0,546.0) rotate(-90)" text-anchor="middle" font-family="Liberation Serif, serif" font-size="57.5" letter-spacing="1" fill="#fb7a25" stroke="#fefbfa" stroke-width="0.9">(-1-11)</text>
<text transform="translate(528.0,426.5) rotate(-90)" text-anchor="middle" font-family="Liberation Serif, serif" font-size="57.5" letter-spacing="1" fill="#fb7a25" stroke="#fefbfa" stroke-width="0.9">(-220)</text>
<text transform="translate(615.2,523.5) rotate(-90)" text-anchor="middle" font-family="Liberation Serif, serif" font-size="57.5" letter-spacing="1" fill="#fb7a25" stroke="#fefbfa" stroke-width="0.9">(0-21)</text>
<text transform="translate(698.0,510.5) rotate(-90)" text-anchor="middle" font-family="Liberation Serif, serif" font-size="57.5" letter-spacing="1" fill="#fb7a25" stroke="#fefbfa" stroke-width="0.9">(400)</text>
<text transform="translate(817.0,499.4) rotate(-90)" text-anchor="middle" font-family="Liberation Serif, serif" font-size="57.5" letter-spacing="1" fill="#fb7a25" stroke="#fefbfa" stroke-width="0.9">(-330)</text>
<text transform="translate(958.0,537.6) rotate(-90)" text-anchor="middle" font-family="Liberation Serif, serif" font-size="57.5" letter-spacing="1" fill="#fb7a25" stroke="#fefbfa" stroke-width="0.9">(-2-22)</text></svg>
</body></html>
